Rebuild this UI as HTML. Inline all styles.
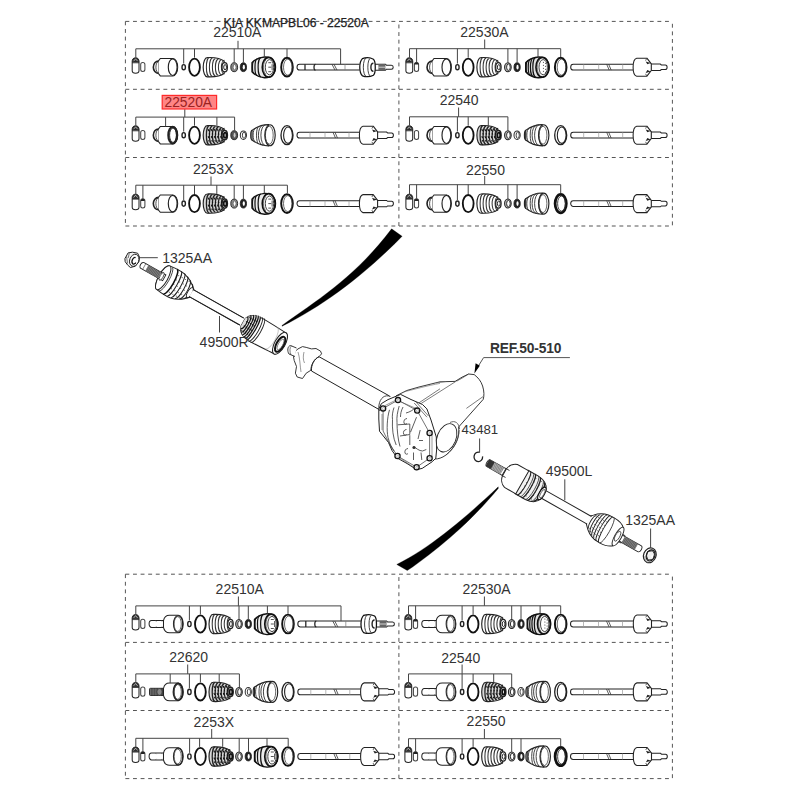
<!DOCTYPE html>
<html><head><meta charset="utf-8"><style>
html,body{margin:0;padding:0;background:#fff;}
svg{display:block;font-family:"Liberation Sans",sans-serif;}
</style></head><body>
<svg width="800" height="800" viewBox="0 0 800 800">
<rect width="800" height="800" fill="#fff"/>
<line x1="125.4" y1="21.4" x2="672.4" y2="21.4" stroke="#555" stroke-width="1" stroke-dasharray="3.9 3.7" fill="none" stroke-dashoffset="0"/>
<line x1="125.4" y1="226" x2="672.4" y2="226" stroke="#555" stroke-width="1" stroke-dasharray="3.9 3.7" fill="none" stroke-dashoffset="0"/>
<line x1="125.4" y1="21.4" x2="125.4" y2="226" stroke="#555" stroke-width="1" stroke-dasharray="3.9 3.7" fill="none" stroke-dashoffset="0"/>
<line x1="672.4" y1="21.4" x2="672.4" y2="226" stroke="#555" stroke-width="1" stroke-dasharray="3.9 3.7" fill="none" stroke-dashoffset="-2.4"/>
<line x1="125.4" y1="89.3" x2="672.4" y2="89.3" stroke="#555" stroke-width="1" stroke-dasharray="3.9 3.7" fill="none" stroke-dashoffset="0"/>
<line x1="125.4" y1="157.5" x2="672.4" y2="157.5" stroke="#555" stroke-width="1" stroke-dasharray="3.9 3.7" fill="none" stroke-dashoffset="0"/>
<line x1="398.9" y1="226" x2="398.9" y2="21.4" stroke="#555" stroke-width="1" stroke-dasharray="3.9 3.7" fill="none" stroke-dashoffset="0"/>
<line x1="125.4" y1="574.2" x2="672.4" y2="574.2" stroke="#555" stroke-width="1" stroke-dasharray="3.9 3.7" fill="none" stroke-dashoffset="0"/>
<line x1="125.4" y1="778.6" x2="672.4" y2="778.6" stroke="#555" stroke-width="1" stroke-dasharray="3.9 3.7" fill="none" stroke-dashoffset="0"/>
<line x1="125.4" y1="574.2" x2="125.4" y2="778.6" stroke="#555" stroke-width="1" stroke-dasharray="3.9 3.7" fill="none" stroke-dashoffset="0"/>
<line x1="672.4" y1="574.2" x2="672.4" y2="778.6" stroke="#555" stroke-width="1" stroke-dasharray="3.9 3.7" fill="none" stroke-dashoffset="-2.4"/>
<line x1="125.4" y1="642.4" x2="672.4" y2="642.4" stroke="#555" stroke-width="1" stroke-dasharray="3.9 3.7" fill="none" stroke-dashoffset="0"/>
<line x1="125.4" y1="710.5" x2="672.4" y2="710.5" stroke="#555" stroke-width="1" stroke-dasharray="3.9 3.7" fill="none" stroke-dashoffset="0"/>
<line x1="398.9" y1="778.6" x2="398.9" y2="574.2" stroke="#555" stroke-width="1" stroke-dasharray="3.9 3.7" fill="none" stroke-dashoffset="0"/>
<path d="M132.2,62 V70.8 A3.4,2.5 0 0 0 139,70.8 V62" fill="#fff" stroke="#222" stroke-width="1.03"/><path d="M132.1,62 A3.5,4.2 0 0 1 139.1,62 Z" fill="#333" stroke="#222" stroke-width="0.92"/><path d="M133.6,61.2 L135.6,58.8 L137.6,61.2" fill="none" stroke="#ddd" stroke-width="0.69"/><line x1="132.2" y1="62.8" x2="139" y2="62.8" stroke="#222" stroke-width="0.8"/>
<rect x="140.7" y="62.4" width="4.2" height="9.2" rx="2.1" ry="2" fill="#fff" stroke="#444" stroke-width="1.03"/>
<path d="M158.3,61.1 L160.3,58.5 H172.9 A4.8,8.7 0 0 1 172.9,75.9 H160.3 L158.3,73.3 Z" fill="#fff" stroke="#222" stroke-width="1.03"/><path d="M158.5,61 A5,6 0 0 0 158.5,73.4" fill="#fff" stroke="#222" stroke-width="1.61"/><path d="M158.5,61.6 A2.6,5.6 0 0 0 158.5,72.8" fill="none" stroke="#222" stroke-width="0.8"/><ellipse cx="172.7" cy="67.2" rx="4.4" ry="8.3" fill="#fff" stroke="#222" stroke-width="1.15"/>
<ellipse cx="183.7" cy="67.2" rx="1.7" ry="2.6" fill="none" stroke="#222" stroke-width="1.38"/>
<ellipse cx="194.5" cy="67.2" rx="5.4" ry="8.6" fill="none" stroke="#111" stroke-width="1.84"/>
<path d="M207.2,57.6 C215.2,57.2 221.2,58.7 224.2,61.2 L224.2,73.2 C221.2,75.7 215.2,77.2 207.2,76.8 A4,9.6 0 0 1 207.2,57.6 Z" fill="#fff" stroke="#222" stroke-width="1.15"/><path d="M209.4,57.6 A3,9.6 0 0 0 209.4,76.8" fill="none" stroke="#333" stroke-width="1.03"/><path d="M212.4,58.15 A3,9.05 0 0 0 212.4,76.25" fill="none" stroke="#333" stroke-width="1.03"/><path d="M215.4,58.7 A3,8.5 0 0 0 215.4,75.7" fill="none" stroke="#333" stroke-width="1.03"/><path d="M218.4,59.25 A3,7.95 0 0 0 218.4,75.15" fill="none" stroke="#333" stroke-width="1.03"/><path d="M221.4,59.8 A3,7.4 0 0 0 221.4,74.6" fill="none" stroke="#333" stroke-width="1.03"/><path d="M224.4,60.35 A3,6.85 0 0 0 224.4,74.05" fill="none" stroke="#333" stroke-width="1.03"/><ellipse cx="224.7" cy="67.2" rx="2.7" ry="4.6" fill="#fff" stroke="#222" stroke-width="1.26"/><ellipse cx="225.1" cy="67.2" rx="1.4" ry="2.6" fill="#fff" stroke="#111" stroke-width="0.92"/>
<ellipse cx="234.2" cy="67.2" rx="3.4" ry="4.5" fill="#888" stroke="#222" stroke-width="0.92"/><ellipse cx="234.6" cy="67.2" rx="1.4" ry="2.6" fill="#fff" stroke="#444" stroke-width="0.57"/>
<ellipse cx="243.4" cy="67.2" rx="3.1" ry="4.4" fill="#222" stroke="#222" stroke-width="0.92"/><ellipse cx="243.8" cy="67.2" rx="1.1" ry="2.4" fill="#fff"/>
<path d="M252,62.7 C254.5,59.7 258.5,57.6 264.5,57 C271.5,56.6 275.5,61.2 275.5,67.2 C275.5,73.2 271.5,78 264.5,77.8 C258.5,77.2 254.5,74.7 252,71.7 Z" fill="#ececec" stroke="#111" stroke-width="1.38"/><path d="M254.3,61 A1.86,6.2 0 0 0 254.3,73.4" fill="none" stroke="#111" stroke-width="1.21"/><path d="M257.5,58.8 A2.52,8.4 0 0 0 257.5,75.6" fill="none" stroke="#111" stroke-width="1.21"/><path d="M261,57.6 A2.88,9.6 0 0 0 261,76.8" fill="none" stroke="#111" stroke-width="1.21"/><ellipse cx="268.7" cy="67.2" rx="6.4" ry="9.9" fill="#f6f6f6" stroke="#111" stroke-width="1.72"/><ellipse cx="269.5" cy="67.2" rx="4.2" ry="7.6" fill="#fff" stroke="#333" stroke-width="0.92"/><path d="M266,60.2 A2.5,7 0 0 0 266,74.2" fill="none" stroke="#555" stroke-width="0.8"/><line x1="268.3" y1="62.7" x2="271.3" y2="62.7" stroke="#444" stroke-width="0.92"/><line x1="268.3" y1="67.2" x2="271.3" y2="67.2" stroke="#444" stroke-width="0.92"/><line x1="268.3" y1="71.7" x2="271.3" y2="71.7" stroke="#444" stroke-width="0.92"/><line x1="272.1" y1="64.2" x2="272.1" y2="70.2" stroke="#444" stroke-width="0.92"/>
<ellipse cx="287" cy="67.2" rx="5.8" ry="9.4" fill="none" stroke="#111" stroke-width="1.95"/><ellipse cx="287.8" cy="67.2" rx="4.3" ry="8" fill="none" stroke="#444" stroke-width="0.8"/>
<path d="M359.6,64.3 H299.6 A2.6,2.9 0 0 0 299.6,70.1 H359.6" fill="#fff" stroke="#222" stroke-width="1.03"/><path d="M305,64.3 v5.8 M315.5,64.3 a1.5,2.9 0 0 0 0,5.8" fill="none" stroke="#222" stroke-width="1.26"/><path d="M332,64.3 l3,5.8 M334,64.3 l3,5.8" fill="none" stroke="#333" stroke-width="0.8"/><path d="M345,64.3 v5.8" stroke="#777" stroke-width="0.69"/>
<path d="M374.4,64.2 H385.4 L386.4,65.2 H391.4 A1.8,2 0 0 1 391.4,69.2 H386.4 L385.4,70.2 H374.4 Z" fill="#fff" stroke="#222" stroke-width="1.03"/><rect x="378.4" y="64.2" width="7" height="6" fill="#666"/><line x1="378.4" y1="67.2" x2="385.4" y2="67.2" stroke="#ddd" stroke-width="0.92"/><path d="M362.4,58.6 C365.4,57.6 370.4,57.6 373.4,59.2 C375.9,61.2 375.9,73.2 373.4,75.2 C370.4,76.8 365.4,76.8 362.4,75.8 C358.9,72.2 358.9,62.2 362.4,58.6 Z" fill="#fff" stroke="#111" stroke-width="1.26"/><path d="M366.4,58 A3,9 0 0 0 366.4,76.4" fill="none" stroke="#333" stroke-width="0.92"/><path d="M370.4,58.4 A2.5,8.6 0 0 0 370.4,76" fill="none" stroke="#333" stroke-width="0.92"/><path d="M373.4,63.2 A2.5,4 0 0 0 373.4,71.2" fill="none" stroke="#222" stroke-width="1.38"/>
<path d="M132.2,130 V138.8 A3.4,2.5 0 0 0 139,138.8 V130" fill="#fff" stroke="#222" stroke-width="1.03"/><path d="M132.1,130 A3.5,4.2 0 0 1 139.1,130 Z" fill="#333" stroke="#222" stroke-width="0.92"/><path d="M133.6,129.2 L135.6,126.8 L137.6,129.2" fill="none" stroke="#ddd" stroke-width="0.69"/><line x1="132.2" y1="130.8" x2="139" y2="130.8" stroke="#222" stroke-width="0.8"/>
<rect x="140.7" y="130.4" width="4.2" height="9.2" rx="2.1" ry="2" fill="#fff" stroke="#444" stroke-width="1.03"/>
<path d="M158.3,129.1 L160.3,126.5 H172.9 A4.8,8.7 0 0 1 172.9,143.9 H160.3 L158.3,141.3 Z" fill="#fff" stroke="#222" stroke-width="1.03"/><path d="M158.5,129 A5,6 0 0 0 158.5,141.4" fill="#fff" stroke="#222" stroke-width="1.61"/><path d="M158.5,129.6 A2.6,5.6 0 0 0 158.5,140.8" fill="none" stroke="#222" stroke-width="0.8"/><ellipse cx="172.7" cy="135.2" rx="4.4" ry="8.3" fill="#fff" stroke="#222" stroke-width="2.07"/><ellipse cx="173" cy="135.2" rx="3.4" ry="7.2" fill="none" stroke="#222" stroke-width="0.92"/>
<ellipse cx="183.7" cy="135.2" rx="1.7" ry="2.6" fill="none" stroke="#222" stroke-width="1.38"/>
<ellipse cx="194.5" cy="135.2" rx="5.4" ry="8.6" fill="none" stroke="#111" stroke-width="1.84"/>
<path d="M207.2,125.6 C215.2,125.2 221.2,126.7 224.2,129.2 L224.2,141.2 C221.2,143.7 215.2,145.2 207.2,144.8 A4,9.6 0 0 1 207.2,125.6 Z" fill="#d8d8d8" stroke="#222" stroke-width="1.15"/><path d="M209.4,125.6 A3,9.6 0 0 0 209.4,144.8" fill="none" stroke="#222" stroke-width="1.26"/><path d="M212.4,126.15 A3,9.05 0 0 0 212.4,144.25" fill="none" stroke="#222" stroke-width="1.26"/><path d="M215.4,126.7 A3,8.5 0 0 0 215.4,143.7" fill="none" stroke="#222" stroke-width="1.26"/><path d="M218.4,127.25 A3,7.95 0 0 0 218.4,143.15" fill="none" stroke="#222" stroke-width="1.26"/><path d="M221.4,127.8 A3,7.4 0 0 0 221.4,142.6" fill="none" stroke="#222" stroke-width="1.26"/><path d="M224.4,128.35 A3,6.85 0 0 0 224.4,142.05" fill="none" stroke="#222" stroke-width="1.26"/><ellipse cx="224.7" cy="135.2" rx="2.7" ry="4.6" fill="#fff" stroke="#222" stroke-width="1.49"/><ellipse cx="225.1" cy="135.2" rx="1.4" ry="2.6" fill="#fff" stroke="#111" stroke-width="1.84"/><path d="M208.2,129.2 l0.6,2 M208.2,136.2 l0.6,2 M209.2,133.2 l0.5,1.5 M208.7,140.2 l0.5,1.5" stroke="#111" stroke-width="1.03"/><path d="M211.3,129.2 l0.6,2 M211.3,136.2 l0.6,2 M212.3,133.2 l0.5,1.5 M211.8,140.2 l0.5,1.5" stroke="#111" stroke-width="1.03"/><path d="M214.4,129.2 l0.6,2 M214.4,136.2 l0.6,2 M215.4,133.2 l0.5,1.5 M214.9,140.2 l0.5,1.5" stroke="#111" stroke-width="1.03"/><path d="M217.5,129.2 l0.6,2 M217.5,136.2 l0.6,2 M218.5,133.2 l0.5,1.5 M218,140.2 l0.5,1.5" stroke="#111" stroke-width="1.03"/><path d="M220.6,129.2 l0.6,2 M220.6,136.2 l0.6,2 M221.6,133.2 l0.5,1.5 M221.1,140.2 l0.5,1.5" stroke="#111" stroke-width="1.03"/>
<ellipse cx="234.2" cy="135.2" rx="3.4" ry="4.5" fill="#555" stroke="#222" stroke-width="0.92"/><ellipse cx="234.6" cy="135.2" rx="1.4" ry="2.6" fill="#ccc" stroke="#444" stroke-width="0.57"/>
<ellipse cx="243.4" cy="135.2" rx="3.1" ry="4.3" fill="#fff" stroke="#333" stroke-width="1.03"/><ellipse cx="244" cy="135.2" rx="1.6" ry="3.1" fill="#fff" stroke="#333" stroke-width="0.92"/>
<path d="M252,130.4 C255.5,127.7 261.5,124.6 268.5,124.6 L268.5,145.8 C261.5,145.8 255.5,142.7 252,140 Z" fill="#fff" stroke="#222" stroke-width="1.15"/><path d="M252.3,130.4 A1.6,4.8 0 0 0 252.3,140" fill="none" stroke="#222" stroke-width="1.15"/><path d="M255.3,128.6 A2.2,6.6 0 0 0 255.3,141.8" fill="none" stroke="#333" stroke-width="0.92"/><path d="M258.7,126.6 A2.2,8.6 0 0 0 258.7,143.8" fill="none" stroke="#333" stroke-width="0.92"/><ellipse cx="270" cy="135.2" rx="5.2" ry="10.5" fill="#fff" stroke="#222" stroke-width="1.15"/><path d="M263,125.3 A4.6,9.9 0 0 0 263,145.1" fill="none" stroke="#333" stroke-width="0.92"/><path d="M265.5,124.9 A4.6,10.3 0 0 0 265.5,145.5" fill="none" stroke="#333" stroke-width="0.92"/><path d="M269.3,126.2 A3.9,9 0 0 0 269.3,144.2" fill="none" stroke="#333" stroke-width="0.92"/><path d="M269.3,126.2 A3.9,9 0 0 1 269.3,144.2" fill="none" stroke="#444" stroke-width="0.8"/>
<ellipse cx="287" cy="135.2" rx="6" ry="9.5" fill="none" stroke="#222" stroke-width="1.32"/><ellipse cx="288" cy="135.2" rx="4.4" ry="8.2" fill="none" stroke="#222" stroke-width="1.09"/>
<path d="M359.6,132.3 H299.6 A2.6,2.9 0 0 0 299.6,138.1 H359.6" fill="#fff" stroke="#222" stroke-width="1.03"/><path d="M310,132.3 v5.8 M325,132.3 v5.8" fill="none" stroke="#999" stroke-width="0.69"/><path d="M333,132.3 l2.5,5.8 M335,132.3 l2.5,5.8" fill="none" stroke="#333" stroke-width="0.8"/><path d="M349,132.3 v5.8" fill="none" stroke="#999" stroke-width="0.69"/>
<path d="M375.4,132 H386.6 L387.6,132.9 H391.6 A1.8,2.3 0 0 1 391.6,137.5 H387.6 L386.6,138.4 H375.4 Z" fill="#fff" stroke="#222" stroke-width="1.03"/><path d="M363,126.2 H373.2 L377.6,131.9 V138.5 L373.2,144.2 H363 C358.2,143.2 358.2,127.2 363,126.2 Z" fill="#fff" stroke="#222" stroke-width="1.09" stroke-linejoin="round"/><path d="M372,129.4 L377,131 L373.6,132.3 Z M372,141 L377,139.4 L373.6,138.1 Z" fill="#222"/><path d="M372.9,126.6 l-1,2 M372.9,143.8 l-1,-2" stroke="#333" stroke-width="0.8"/>
<path d="M132.2,198.4 V207.2 A3.4,2.5 0 0 0 139,207.2 V198.4" fill="#fff" stroke="#222" stroke-width="1.03"/><path d="M132.1,198.4 A3.5,4.2 0 0 1 139.1,198.4 Z" fill="#333" stroke="#222" stroke-width="0.92"/><path d="M133.6,197.6 L135.6,195.2 L137.6,197.6" fill="none" stroke="#ddd" stroke-width="0.69"/><line x1="132.2" y1="199.2" x2="139" y2="199.2" stroke="#222" stroke-width="0.8"/>
<rect x="140.7" y="198.8" width="4.2" height="9.2" rx="2.1" ry="2" fill="#fff" stroke="#444" stroke-width="1.03"/><path d="M140.7,201 A2.1,2.3 0 0 1 144.9,201 Z" fill="#222"/>
<path d="M158.3,197.5 L160.3,194.9 H172.9 A4.8,8.7 0 0 1 172.9,212.3 H160.3 L158.3,209.7 Z" fill="#fff" stroke="#222" stroke-width="1.03"/><path d="M158.5,197.4 A5,6 0 0 0 158.5,209.8" fill="#fff" stroke="#222" stroke-width="1.61"/><path d="M158.5,198 A2.6,5.6 0 0 0 158.5,209.2" fill="none" stroke="#222" stroke-width="0.8"/><ellipse cx="172.7" cy="203.6" rx="4.4" ry="8.3" fill="#fff" stroke="#222" stroke-width="1.15"/>
<ellipse cx="183.7" cy="203.6" rx="1.7" ry="2.6" fill="none" stroke="#222" stroke-width="1.38"/>
<ellipse cx="194.5" cy="203.6" rx="5.4" ry="8.6" fill="none" stroke="#111" stroke-width="1.84"/>
<path d="M207.2,194 C215.2,193.6 221.2,195.1 224.2,197.6 L224.2,209.6 C221.2,212.1 215.2,213.6 207.2,213.2 A4,9.6 0 0 1 207.2,194 Z" fill="#d8d8d8" stroke="#222" stroke-width="1.15"/><path d="M209.4,194 A3,9.6 0 0 0 209.4,213.2" fill="none" stroke="#222" stroke-width="1.26"/><path d="M212.4,194.55 A3,9.05 0 0 0 212.4,212.65" fill="none" stroke="#222" stroke-width="1.26"/><path d="M215.4,195.1 A3,8.5 0 0 0 215.4,212.1" fill="none" stroke="#222" stroke-width="1.26"/><path d="M218.4,195.65 A3,7.95 0 0 0 218.4,211.55" fill="none" stroke="#222" stroke-width="1.26"/><path d="M221.4,196.2 A3,7.4 0 0 0 221.4,211" fill="none" stroke="#222" stroke-width="1.26"/><path d="M224.4,196.75 A3,6.85 0 0 0 224.4,210.45" fill="none" stroke="#222" stroke-width="1.26"/><ellipse cx="224.7" cy="203.6" rx="2.7" ry="4.6" fill="#fff" stroke="#222" stroke-width="1.49"/><ellipse cx="225.1" cy="203.6" rx="1.4" ry="2.6" fill="#fff" stroke="#111" stroke-width="1.84"/><path d="M208.2,197.6 l0.6,2 M208.2,204.6 l0.6,2 M209.2,201.6 l0.5,1.5 M208.7,208.6 l0.5,1.5" stroke="#111" stroke-width="1.03"/><path d="M211.3,197.6 l0.6,2 M211.3,204.6 l0.6,2 M212.3,201.6 l0.5,1.5 M211.8,208.6 l0.5,1.5" stroke="#111" stroke-width="1.03"/><path d="M214.4,197.6 l0.6,2 M214.4,204.6 l0.6,2 M215.4,201.6 l0.5,1.5 M214.9,208.6 l0.5,1.5" stroke="#111" stroke-width="1.03"/><path d="M217.5,197.6 l0.6,2 M217.5,204.6 l0.6,2 M218.5,201.6 l0.5,1.5 M218,208.6 l0.5,1.5" stroke="#111" stroke-width="1.03"/><path d="M220.6,197.6 l0.6,2 M220.6,204.6 l0.6,2 M221.6,201.6 l0.5,1.5 M221.1,208.6 l0.5,1.5" stroke="#111" stroke-width="1.03"/>
<ellipse cx="234.2" cy="203.6" rx="3.4" ry="4.5" fill="#888" stroke="#222" stroke-width="0.92"/><ellipse cx="234.6" cy="203.6" rx="1.4" ry="2.6" fill="#fff" stroke="#444" stroke-width="0.57"/>
<ellipse cx="243.4" cy="203.6" rx="3.1" ry="4.4" fill="#222" stroke="#222" stroke-width="0.92"/><ellipse cx="243.8" cy="203.6" rx="1.1" ry="2.4" fill="#fff"/>
<path d="M252,199.1 C254.5,196.1 258.5,194 264.5,193.4 C271.5,193 275.5,197.6 275.5,203.6 C275.5,209.6 271.5,214.4 264.5,214.2 C258.5,213.6 254.5,211.1 252,208.1 Z" fill="#ececec" stroke="#111" stroke-width="1.38"/><path d="M254.3,197.4 A1.86,6.2 0 0 0 254.3,209.8" fill="none" stroke="#111" stroke-width="1.21"/><path d="M257.5,195.2 A2.52,8.4 0 0 0 257.5,212" fill="none" stroke="#111" stroke-width="1.21"/><path d="M261,194 A2.88,9.6 0 0 0 261,213.2" fill="none" stroke="#111" stroke-width="1.21"/><ellipse cx="268.7" cy="203.6" rx="6.4" ry="9.9" fill="#f6f6f6" stroke="#111" stroke-width="1.72"/><ellipse cx="269.5" cy="203.6" rx="4.2" ry="7.6" fill="#fff" stroke="#333" stroke-width="0.92"/><path d="M266,196.6 A2.5,7 0 0 0 266,210.6" fill="none" stroke="#555" stroke-width="0.8"/><line x1="268.3" y1="199.1" x2="271.3" y2="199.1" stroke="#444" stroke-width="0.92"/><line x1="268.3" y1="203.6" x2="271.3" y2="203.6" stroke="#444" stroke-width="0.92"/><line x1="268.3" y1="208.1" x2="271.3" y2="208.1" stroke="#444" stroke-width="0.92"/><line x1="272.1" y1="200.6" x2="272.1" y2="206.6" stroke="#444" stroke-width="0.92"/>
<ellipse cx="287" cy="203.6" rx="5.8" ry="9.4" fill="none" stroke="#111" stroke-width="1.95"/><ellipse cx="287.8" cy="203.6" rx="4.3" ry="8" fill="none" stroke="#444" stroke-width="0.8"/>
<path d="M359.6,200.7 H299.6 A2.6,2.9 0 0 0 299.6,206.5 H359.6" fill="#fff" stroke="#222" stroke-width="1.03"/><path d="M310,200.7 v5.8 M325,200.7 v5.8" fill="none" stroke="#999" stroke-width="0.69"/><path d="M333,200.7 l2.5,5.8 M335,200.7 l2.5,5.8" fill="none" stroke="#333" stroke-width="0.8"/><path d="M349,200.7 v5.8" fill="none" stroke="#999" stroke-width="0.69"/>
<path d="M375.4,200.4 H386.6 L387.6,201.3 H391.6 A1.8,2.3 0 0 1 391.6,205.9 H387.6 L386.6,206.8 H375.4 Z" fill="#fff" stroke="#222" stroke-width="1.03"/><path d="M363,194.6 H373.2 L377.6,200.3 V206.9 L373.2,212.6 H363 C358.2,211.6 358.2,195.6 363,194.6 Z" fill="#fff" stroke="#222" stroke-width="1.09" stroke-linejoin="round"/><path d="M372,197.8 L377,199.4 L373.6,200.7 Z M372,209.4 L377,207.8 L373.6,206.5 Z" fill="#222"/><path d="M372.9,195 l-1,2 M372.9,212.2 l-1,-2" stroke="#333" stroke-width="0.8"/>
<path d="M405.9,62 V70.8 A3.4,2.5 0 0 0 412.7,70.8 V62" fill="#fff" stroke="#222" stroke-width="1.03"/><path d="M405.8,62 A3.5,4.2 0 0 1 412.8,62 Z" fill="#333" stroke="#222" stroke-width="0.92"/><path d="M407.3,61.2 L409.3,58.8 L411.3,61.2" fill="none" stroke="#ddd" stroke-width="0.69"/><line x1="405.9" y1="62.8" x2="412.7" y2="62.8" stroke="#222" stroke-width="0.8"/>
<rect x="414.4" y="62.4" width="4.2" height="9.2" rx="2.1" ry="2" fill="#fff" stroke="#444" stroke-width="1.03"/><path d="M414.4,64.6 A2.1,2.3 0 0 1 418.6,64.6 Z" fill="#222"/>
<path d="M432,61.1 L434,58.5 H446.6 A4.8,8.7 0 0 1 446.6,75.9 H434 L432,73.3 Z" fill="#fff" stroke="#222" stroke-width="1.03"/><path d="M432.2,61 A5,6 0 0 0 432.2,73.4" fill="#fff" stroke="#222" stroke-width="1.61"/><path d="M432.2,61.6 A2.6,5.6 0 0 0 432.2,72.8" fill="none" stroke="#222" stroke-width="0.8"/><ellipse cx="446.4" cy="67.2" rx="4.4" ry="8.3" fill="#fff" stroke="#222" stroke-width="1.15"/>
<ellipse cx="457.4" cy="67.2" rx="1.7" ry="2.6" fill="none" stroke="#222" stroke-width="1.38"/>
<ellipse cx="468.2" cy="67.2" rx="5.4" ry="8.6" fill="none" stroke="#111" stroke-width="1.84"/>
<path d="M480.9,57.6 C488.9,57.2 494.9,58.7 497.9,61.2 L497.9,73.2 C494.9,75.7 488.9,77.2 480.9,76.8 A4,9.6 0 0 1 480.9,57.6 Z" fill="#fff" stroke="#222" stroke-width="1.15"/><path d="M483.1,57.6 A3,9.6 0 0 0 483.1,76.8" fill="none" stroke="#333" stroke-width="1.03"/><path d="M486.1,58.15 A3,9.05 0 0 0 486.1,76.25" fill="none" stroke="#333" stroke-width="1.03"/><path d="M489.1,58.7 A3,8.5 0 0 0 489.1,75.7" fill="none" stroke="#333" stroke-width="1.03"/><path d="M492.1,59.25 A3,7.95 0 0 0 492.1,75.15" fill="none" stroke="#333" stroke-width="1.03"/><path d="M495.1,59.8 A3,7.4 0 0 0 495.1,74.6" fill="none" stroke="#333" stroke-width="1.03"/><path d="M498.1,60.35 A3,6.85 0 0 0 498.1,74.05" fill="none" stroke="#333" stroke-width="1.03"/><ellipse cx="498.4" cy="67.2" rx="2.7" ry="4.6" fill="#fff" stroke="#222" stroke-width="1.26"/><ellipse cx="498.8" cy="67.2" rx="1.4" ry="2.6" fill="#fff" stroke="#111" stroke-width="0.92"/>
<ellipse cx="507.9" cy="67.2" rx="3.3" ry="4.5" fill="#bbb" stroke="#222" stroke-width="1.03"/><ellipse cx="508.4" cy="67.2" rx="1.8" ry="3.2" fill="#fff" stroke="#222" stroke-width="0.92"/>
<ellipse cx="517.1" cy="67.2" rx="3.1" ry="4.4" fill="#222" stroke="#222" stroke-width="0.92"/><ellipse cx="517.5" cy="67.2" rx="1.1" ry="2.4" fill="#fff"/>
<path d="M525.7,62.7 C528.2,59.7 532.2,57.6 538.2,57 C545.2,56.6 549.2,61.2 549.2,67.2 C549.2,73.2 545.2,78 538.2,77.8 C532.2,77.2 528.2,74.7 525.7,71.7 Z" fill="#e0e0e0" stroke="#111" stroke-width="1.38"/><path d="M528,61 A1.86,6.2 0 0 0 528,73.4" fill="none" stroke="#111" stroke-width="1.21"/><path d="M530.6,59.3 A2.37,7.9 0 0 0 530.6,75.1" fill="none" stroke="#111" stroke-width="1.21"/><path d="M533.2,58 A2.76,9.2 0 0 0 533.2,76.4" fill="none" stroke="#111" stroke-width="1.21"/><path d="M535.8,57.3 A2.97,9.9 0 0 0 535.8,77.1" fill="none" stroke="#111" stroke-width="1.21"/><ellipse cx="542.4" cy="67.2" rx="6.4" ry="9.9" fill="#f6f6f6" stroke="#111" stroke-width="1.72"/><ellipse cx="543.2" cy="67.2" rx="4.2" ry="7.6" fill="#fff" stroke="#333" stroke-width="0.92"/><path d="M539.7,60.2 A2.5,7 0 0 0 539.7,74.2" fill="none" stroke="#555" stroke-width="0.8"/><circle cx="543.4" cy="62.2" r="0.55" fill="#222"/><circle cx="545.6" cy="63.2" r="0.55" fill="#222"/><circle cx="543.4" cy="65.2" r="0.55" fill="#222"/><circle cx="545.6" cy="66.2" r="0.55" fill="#222"/><circle cx="543.4" cy="68.2" r="0.55" fill="#222"/><circle cx="545.6" cy="69.2" r="0.55" fill="#222"/><circle cx="543.4" cy="71.2" r="0.55" fill="#222"/><circle cx="545.6" cy="72.2" r="0.55" fill="#222"/>
<ellipse cx="560.7" cy="67.2" rx="5.8" ry="9.4" fill="none" stroke="#111" stroke-width="1.95"/><ellipse cx="561.5" cy="67.2" rx="4.3" ry="8" fill="none" stroke="#444" stroke-width="0.8"/>
<path d="M633.3,64.3 H573.3 A2.6,2.9 0 0 0 573.3,70.1 H633.3" fill="#fff" stroke="#222" stroke-width="1.03"/><path d="M583.7,64.3 v5.8 M598.7,64.3 v5.8" fill="none" stroke="#999" stroke-width="0.69"/><path d="M606.7,64.3 l2.5,5.8 M608.7,64.3 l2.5,5.8" fill="none" stroke="#333" stroke-width="0.8"/><path d="M622.7,64.3 v5.8" fill="none" stroke="#999" stroke-width="0.69"/>
<path d="M649.1,64 H660.3 L661.3,64.9 H665.3 A1.8,2.3 0 0 1 665.3,69.5 H661.3 L660.3,70.4 H649.1 Z" fill="#fff" stroke="#222" stroke-width="1.03"/><path d="M636.7,58.2 H646.9 L651.3,63.9 V70.5 L646.9,76.2 H636.7 C631.9,75.2 631.9,59.2 636.7,58.2 Z" fill="#fff" stroke="#222" stroke-width="1.09" stroke-linejoin="round"/><path d="M645.7,61.4 L650.7,63 L647.3,64.3 Z M645.7,73 L650.7,71.4 L647.3,70.1 Z" fill="#222"/><path d="M646.6,58.6 l-1,2 M646.6,75.8 l-1,-2" stroke="#333" stroke-width="0.8"/>
<path d="M405.9,130 V138.8 A3.4,2.5 0 0 0 412.7,138.8 V130" fill="#fff" stroke="#222" stroke-width="1.03"/><path d="M405.8,130 A3.5,4.2 0 0 1 412.8,130 Z" fill="#333" stroke="#222" stroke-width="0.92"/><path d="M407.3,129.2 L409.3,126.8 L411.3,129.2" fill="none" stroke="#ddd" stroke-width="0.69"/><line x1="405.9" y1="130.8" x2="412.7" y2="130.8" stroke="#222" stroke-width="0.8"/>
<rect x="414.4" y="130.4" width="4.2" height="9.2" rx="2.1" ry="2" fill="#fff" stroke="#444" stroke-width="1.03"/>
<path d="M432,129.1 L434,126.5 H446.6 A4.8,8.7 0 0 1 446.6,143.9 H434 L432,141.3 Z" fill="#fff" stroke="#222" stroke-width="1.03"/><path d="M432.2,129 A5,6 0 0 0 432.2,141.4" fill="#fff" stroke="#222" stroke-width="1.61"/><path d="M432.2,129.6 A2.6,5.6 0 0 0 432.2,140.8" fill="none" stroke="#222" stroke-width="0.8"/><ellipse cx="446.4" cy="135.2" rx="4.4" ry="8.3" fill="#fff" stroke="#222" stroke-width="1.15"/>
<ellipse cx="457.4" cy="135.2" rx="1.7" ry="2.6" fill="none" stroke="#222" stroke-width="1.38"/>
<ellipse cx="468.2" cy="135.2" rx="5.4" ry="8.6" fill="none" stroke="#111" stroke-width="1.84"/>
<path d="M480.9,125.6 C488.9,125.2 494.9,126.7 497.9,129.2 L497.9,141.2 C494.9,143.7 488.9,145.2 480.9,144.8 A4,9.6 0 0 1 480.9,125.6 Z" fill="#d8d8d8" stroke="#222" stroke-width="1.15"/><path d="M483.1,125.6 A3,9.6 0 0 0 483.1,144.8" fill="none" stroke="#222" stroke-width="1.26"/><path d="M486.1,126.15 A3,9.05 0 0 0 486.1,144.25" fill="none" stroke="#222" stroke-width="1.26"/><path d="M489.1,126.7 A3,8.5 0 0 0 489.1,143.7" fill="none" stroke="#222" stroke-width="1.26"/><path d="M492.1,127.25 A3,7.95 0 0 0 492.1,143.15" fill="none" stroke="#222" stroke-width="1.26"/><path d="M495.1,127.8 A3,7.4 0 0 0 495.1,142.6" fill="none" stroke="#222" stroke-width="1.26"/><path d="M498.1,128.35 A3,6.85 0 0 0 498.1,142.05" fill="none" stroke="#222" stroke-width="1.26"/><ellipse cx="498.4" cy="135.2" rx="2.7" ry="4.6" fill="#fff" stroke="#222" stroke-width="1.49"/><ellipse cx="498.8" cy="135.2" rx="1.4" ry="2.6" fill="#fff" stroke="#111" stroke-width="1.84"/><path d="M481.9,129.2 l0.6,2 M481.9,136.2 l0.6,2 M482.9,133.2 l0.5,1.5 M482.4,140.2 l0.5,1.5" stroke="#111" stroke-width="1.03"/><path d="M485,129.2 l0.6,2 M485,136.2 l0.6,2 M486,133.2 l0.5,1.5 M485.5,140.2 l0.5,1.5" stroke="#111" stroke-width="1.03"/><path d="M488.1,129.2 l0.6,2 M488.1,136.2 l0.6,2 M489.1,133.2 l0.5,1.5 M488.6,140.2 l0.5,1.5" stroke="#111" stroke-width="1.03"/><path d="M491.2,129.2 l0.6,2 M491.2,136.2 l0.6,2 M492.2,133.2 l0.5,1.5 M491.7,140.2 l0.5,1.5" stroke="#111" stroke-width="1.03"/><path d="M494.3,129.2 l0.6,2 M494.3,136.2 l0.6,2 M495.3,133.2 l0.5,1.5 M494.8,140.2 l0.5,1.5" stroke="#111" stroke-width="1.03"/>
<ellipse cx="507.9" cy="135.2" rx="3.3" ry="4.5" fill="#bbb" stroke="#222" stroke-width="1.03"/><ellipse cx="508.4" cy="135.2" rx="1.8" ry="3.2" fill="#fff" stroke="#222" stroke-width="0.92"/>
<ellipse cx="517.1" cy="135.2" rx="3.1" ry="4.3" fill="#fff" stroke="#333" stroke-width="1.03"/><ellipse cx="517.7" cy="135.2" rx="1.6" ry="3.1" fill="#fff" stroke="#333" stroke-width="0.92"/>
<path d="M525.7,130.4 C529.2,127.7 535.2,124.6 542.2,124.6 L542.2,145.8 C535.2,145.8 529.2,142.7 525.7,140 Z" fill="#fff" stroke="#222" stroke-width="1.15"/><path d="M526,130.4 A1.6,4.8 0 0 0 526,140" fill="none" stroke="#222" stroke-width="1.15"/><path d="M529,128.6 A2.2,6.6 0 0 0 529,141.8" fill="none" stroke="#333" stroke-width="0.92"/><path d="M532.4,126.6 A2.2,8.6 0 0 0 532.4,143.8" fill="none" stroke="#333" stroke-width="0.92"/><ellipse cx="543.7" cy="135.2" rx="5.2" ry="10.5" fill="#fff" stroke="#222" stroke-width="1.15"/><path d="M536.7,125.3 A4.6,9.9 0 0 0 536.7,145.1" fill="none" stroke="#333" stroke-width="0.92"/><path d="M539.2,124.9 A4.6,10.3 0 0 0 539.2,145.5" fill="none" stroke="#333" stroke-width="0.92"/><path d="M543,126.2 A3.9,9 0 0 0 543,144.2" fill="none" stroke="#333" stroke-width="0.92"/><path d="M543,126.2 A3.9,9 0 0 1 543,144.2" fill="none" stroke="#444" stroke-width="0.8"/>
<ellipse cx="560.7" cy="135.2" rx="6" ry="9.5" fill="none" stroke="#222" stroke-width="1.32"/><ellipse cx="561.7" cy="135.2" rx="4.4" ry="8.2" fill="none" stroke="#222" stroke-width="1.09"/>
<path d="M633.3,132.3 H573.3 A2.6,2.9 0 0 0 573.3,138.1 H633.3" fill="#fff" stroke="#222" stroke-width="1.03"/><path d="M583.7,132.3 v5.8 M598.7,132.3 v5.8" fill="none" stroke="#999" stroke-width="0.69"/><path d="M606.7,132.3 l2.5,5.8 M608.7,132.3 l2.5,5.8" fill="none" stroke="#333" stroke-width="0.8"/><path d="M622.7,132.3 v5.8" fill="none" stroke="#999" stroke-width="0.69"/>
<path d="M649.1,132 H660.3 L661.3,132.9 H665.3 A1.8,2.3 0 0 1 665.3,137.5 H661.3 L660.3,138.4 H649.1 Z" fill="#fff" stroke="#222" stroke-width="1.03"/><path d="M636.7,126.2 H646.9 L651.3,131.9 V138.5 L646.9,144.2 H636.7 C631.9,143.2 631.9,127.2 636.7,126.2 Z" fill="#fff" stroke="#222" stroke-width="1.09" stroke-linejoin="round"/><path d="M645.7,129.4 L650.7,131 L647.3,132.3 Z M645.7,141 L650.7,139.4 L647.3,138.1 Z" fill="#222"/><path d="M646.6,126.6 l-1,2 M646.6,143.8 l-1,-2" stroke="#333" stroke-width="0.8"/>
<path d="M405.9,198.4 V207.2 A3.4,2.5 0 0 0 412.7,207.2 V198.4" fill="#fff" stroke="#222" stroke-width="1.03"/><path d="M405.8,198.4 A3.5,4.2 0 0 1 412.8,198.4 Z" fill="#333" stroke="#222" stroke-width="0.92"/><path d="M407.3,197.6 L409.3,195.2 L411.3,197.6" fill="none" stroke="#ddd" stroke-width="0.69"/><line x1="405.9" y1="199.2" x2="412.7" y2="199.2" stroke="#222" stroke-width="0.8"/>
<rect x="414.4" y="198.8" width="4.2" height="9.2" rx="2.1" ry="2" fill="#fff" stroke="#444" stroke-width="1.03"/><path d="M414.4,201 A2.1,2.3 0 0 1 418.6,201 Z" fill="#222"/>
<path d="M432,197.5 L434,194.9 H446.6 A4.8,8.7 0 0 1 446.6,212.3 H434 L432,209.7 Z" fill="#fff" stroke="#222" stroke-width="1.03"/><path d="M432.2,197.4 A5,6 0 0 0 432.2,209.8" fill="#fff" stroke="#222" stroke-width="1.61"/><path d="M432.2,198 A2.6,5.6 0 0 0 432.2,209.2" fill="none" stroke="#222" stroke-width="0.8"/><ellipse cx="446.4" cy="203.6" rx="4.4" ry="8.3" fill="#fff" stroke="#222" stroke-width="1.15"/>
<ellipse cx="457.4" cy="203.6" rx="1.7" ry="2.6" fill="none" stroke="#222" stroke-width="1.38"/>
<ellipse cx="468.2" cy="203.6" rx="5.4" ry="8.6" fill="none" stroke="#111" stroke-width="1.84"/>
<path d="M480.9,194 C488.9,193.6 494.9,195.1 497.9,197.6 L497.9,209.6 C494.9,212.1 488.9,213.6 480.9,213.2 A4,9.6 0 0 1 480.9,194 Z" fill="#fff" stroke="#222" stroke-width="1.15"/><path d="M483.1,194 A3,9.6 0 0 0 483.1,213.2" fill="none" stroke="#333" stroke-width="1.03"/><path d="M486.1,194.55 A3,9.05 0 0 0 486.1,212.65" fill="none" stroke="#333" stroke-width="1.03"/><path d="M489.1,195.1 A3,8.5 0 0 0 489.1,212.1" fill="none" stroke="#333" stroke-width="1.03"/><path d="M492.1,195.65 A3,7.95 0 0 0 492.1,211.55" fill="none" stroke="#333" stroke-width="1.03"/><path d="M495.1,196.2 A3,7.4 0 0 0 495.1,211" fill="none" stroke="#333" stroke-width="1.03"/><path d="M498.1,196.75 A3,6.85 0 0 0 498.1,210.45" fill="none" stroke="#333" stroke-width="1.03"/><ellipse cx="498.4" cy="203.6" rx="2.7" ry="4.6" fill="#fff" stroke="#222" stroke-width="1.26"/><ellipse cx="498.8" cy="203.6" rx="1.4" ry="2.6" fill="#fff" stroke="#111" stroke-width="0.92"/>
<ellipse cx="507.9" cy="203.6" rx="3.3" ry="4.5" fill="#bbb" stroke="#222" stroke-width="1.03"/><ellipse cx="508.4" cy="203.6" rx="1.8" ry="3.2" fill="#fff" stroke="#222" stroke-width="0.92"/>
<ellipse cx="517.1" cy="203.6" rx="3.1" ry="4.4" fill="#222" stroke="#222" stroke-width="0.92"/><ellipse cx="517.5" cy="203.6" rx="1.1" ry="2.4" fill="#fff"/>
<path d="M525.7,198.8 C529.2,196.1 535.2,193 542.2,193 L542.2,214.2 C535.2,214.2 529.2,211.1 525.7,208.4 Z" fill="#fff" stroke="#222" stroke-width="1.15"/><path d="M526,198.8 A1.6,4.8 0 0 0 526,208.4" fill="none" stroke="#222" stroke-width="1.15"/><path d="M529,197 A2.2,6.6 0 0 0 529,210.2" fill="none" stroke="#333" stroke-width="0.92"/><path d="M532.4,195 A2.2,8.6 0 0 0 532.4,212.2" fill="none" stroke="#333" stroke-width="0.92"/><ellipse cx="543.7" cy="203.6" rx="5.2" ry="10.5" fill="#fff" stroke="#222" stroke-width="1.15"/><path d="M536.7,193.7 A4.6,9.9 0 0 0 536.7,213.5" fill="none" stroke="#333" stroke-width="0.92"/><path d="M539.2,193.3 A4.6,10.3 0 0 0 539.2,213.9" fill="none" stroke="#333" stroke-width="0.92"/><path d="M543,194.6 A3.9,9 0 0 0 543,212.6" fill="none" stroke="#333" stroke-width="0.92"/><path d="M543,194.6 A3.9,9 0 0 1 543,212.6" fill="none" stroke="#444" stroke-width="0.8"/>
<ellipse cx="560.7" cy="203.6" rx="5.6" ry="9.2" fill="none" stroke="#111" stroke-width="2.76"/><ellipse cx="561.5" cy="203.6" rx="3.9" ry="7.6" fill="none" stroke="#333" stroke-width="0.92"/>
<path d="M633.3,200.7 H573.3 A2.6,2.9 0 0 0 573.3,206.5 H633.3" fill="#fff" stroke="#222" stroke-width="1.03"/><path d="M583.7,200.7 v5.8 M598.7,200.7 v5.8" fill="none" stroke="#999" stroke-width="0.69"/><path d="M606.7,200.7 l2.5,5.8 M608.7,200.7 l2.5,5.8" fill="none" stroke="#333" stroke-width="0.8"/><path d="M622.7,200.7 v5.8" fill="none" stroke="#999" stroke-width="0.69"/>
<path d="M649.1,200.4 H660.3 L661.3,201.3 H665.3 A1.8,2.3 0 0 1 665.3,205.9 H661.3 L660.3,206.8 H649.1 Z" fill="#fff" stroke="#222" stroke-width="1.03"/><path d="M636.7,194.6 H646.9 L651.3,200.3 V206.9 L646.9,212.6 H636.7 C631.9,211.6 631.9,195.6 636.7,194.6 Z" fill="#fff" stroke="#222" stroke-width="1.09" stroke-linejoin="round"/><path d="M645.7,197.8 L650.7,199.4 L647.3,200.7 Z M645.7,209.4 L650.7,207.8 L647.3,206.5 Z" fill="#222"/><path d="M646.6,195 l-1,2 M646.6,212.2 l-1,-2" stroke="#333" stroke-width="0.8"/>
<path d="M132.2,618.8 V627.6 A3.4,2.5 0 0 0 139,627.6 V618.8" fill="#fff" stroke="#222" stroke-width="1.03"/><path d="M132.1,618.8 A3.5,4.2 0 0 1 139.1,618.8 Z" fill="#333" stroke="#222" stroke-width="0.92"/><path d="M133.6,618 L135.6,615.6 L137.6,618" fill="none" stroke="#ddd" stroke-width="0.69"/><line x1="132.2" y1="619.6" x2="139" y2="619.6" stroke="#222" stroke-width="0.8"/>
<rect x="140.7" y="619.2" width="4.2" height="9.2" rx="2.1" ry="2" fill="#fff" stroke="#444" stroke-width="1.03"/>
<path d="M164.5,620.6 H151.5 A2.4,3.4 0 0 0 151.5,627.4 H164.5" fill="#fff" stroke="#222" stroke-width="1.03"/><path d="M155.5,620.6 l0.8,1 M155.5,627.4 l0.8,-1 M161.5,620.6 l0.6,1 M161.5,627.4 l0.6,-1" stroke="#555" stroke-width="0.69"/><path d="M163.5,620.6 C164.1,617.5 166,615.2 169.5,615.2 H178.3 A4.9,8.8 0 0 1 178.3,632.8 H169.5 C166,632.8 164.1,630.5 163.5,627.4 Z" fill="#fff" stroke="#222" stroke-width="1.03"/><ellipse cx="178.1" cy="624" rx="4.6" ry="8.4" fill="#fff" stroke="#222" stroke-width="1.15"/><ellipse cx="177.7" cy="624" rx="3.6" ry="7.4" fill="none" stroke="#444" stroke-width="0.8"/>
<ellipse cx="189.4" cy="624" rx="1.7" ry="2.6" fill="none" stroke="#222" stroke-width="1.38"/>
<ellipse cx="200.4" cy="624" rx="5.4" ry="8.6" fill="none" stroke="#111" stroke-width="1.84"/>
<path d="M213,614.4 C221,614 227,615.5 230,618 L230,630 C227,632.5 221,634 213,633.6 A4,9.6 0 0 1 213,614.4 Z" fill="#fff" stroke="#222" stroke-width="1.15"/><path d="M215.2,614.4 A3,9.6 0 0 0 215.2,633.6" fill="none" stroke="#333" stroke-width="1.03"/><path d="M218.2,614.95 A3,9.05 0 0 0 218.2,633.05" fill="none" stroke="#333" stroke-width="1.03"/><path d="M221.2,615.5 A3,8.5 0 0 0 221.2,632.5" fill="none" stroke="#333" stroke-width="1.03"/><path d="M224.2,616.05 A3,7.95 0 0 0 224.2,631.95" fill="none" stroke="#333" stroke-width="1.03"/><path d="M227.2,616.6 A3,7.4 0 0 0 227.2,631.4" fill="none" stroke="#333" stroke-width="1.03"/><path d="M230.2,617.15 A3,6.85 0 0 0 230.2,630.85" fill="none" stroke="#333" stroke-width="1.03"/><ellipse cx="230.5" cy="624" rx="2.7" ry="4.6" fill="#fff" stroke="#222" stroke-width="1.26"/><ellipse cx="230.9" cy="624" rx="1.4" ry="2.6" fill="#fff" stroke="#111" stroke-width="0.92"/>
<ellipse cx="239" cy="624" rx="3.3" ry="4.5" fill="#bbb" stroke="#222" stroke-width="1.03"/><ellipse cx="239.5" cy="624" rx="1.8" ry="3.2" fill="#fff" stroke="#222" stroke-width="0.92"/>
<ellipse cx="248.3" cy="624" rx="3.1" ry="4.4" fill="#222" stroke="#222" stroke-width="0.92"/><ellipse cx="248.7" cy="624" rx="1.1" ry="2.4" fill="#fff"/>
<path d="M254.5,619.5 C257,616.5 261,614.4 267,613.8 C274,613.4 278,618 278,624 C278,630 274,634.8 267,634.6 C261,634 257,631.5 254.5,628.5 Z" fill="#ececec" stroke="#111" stroke-width="1.38"/><path d="M256.8,617.8 A1.86,6.2 0 0 0 256.8,630.2" fill="none" stroke="#111" stroke-width="1.21"/><path d="M260,615.6 A2.52,8.4 0 0 0 260,632.4" fill="none" stroke="#111" stroke-width="1.21"/><path d="M263.5,614.4 A2.88,9.6 0 0 0 263.5,633.6" fill="none" stroke="#111" stroke-width="1.21"/><ellipse cx="271.2" cy="624" rx="6.4" ry="9.9" fill="#f6f6f6" stroke="#111" stroke-width="1.72"/><ellipse cx="272" cy="624" rx="4.2" ry="7.6" fill="#fff" stroke="#333" stroke-width="0.92"/><path d="M268.5,617 A2.5,7 0 0 0 268.5,631" fill="none" stroke="#555" stroke-width="0.8"/><line x1="270.8" y1="619.5" x2="273.8" y2="619.5" stroke="#444" stroke-width="0.92"/><line x1="270.8" y1="624" x2="273.8" y2="624" stroke="#444" stroke-width="0.92"/><line x1="270.8" y1="628.5" x2="273.8" y2="628.5" stroke="#444" stroke-width="0.92"/><line x1="274.6" y1="621" x2="274.6" y2="627" stroke="#444" stroke-width="0.92"/>
<ellipse cx="288" cy="624" rx="5.8" ry="9.4" fill="none" stroke="#111" stroke-width="1.95"/><ellipse cx="288.8" cy="624" rx="4.3" ry="8" fill="none" stroke="#444" stroke-width="0.8"/>
<path d="M360.8,621.1 H300.4 A2.6,2.9 0 0 0 300.4,626.9 H360.8" fill="#fff" stroke="#222" stroke-width="1.03"/><path d="M305.8,621.1 v5.8 M316.3,621.1 a1.5,2.9 0 0 0 0,5.8" fill="none" stroke="#222" stroke-width="1.26"/><path d="M332.8,621.1 l3,5.8 M334.8,621.1 l3,5.8" fill="none" stroke="#333" stroke-width="0.8"/><path d="M345.8,621.1 v5.8" stroke="#777" stroke-width="0.69"/>
<path d="M375.6,621 H386.6 L387.6,622 H392.6 A1.8,2 0 0 1 392.6,626 H387.6 L386.6,627 H375.6 Z" fill="#fff" stroke="#222" stroke-width="1.03"/><rect x="379.6" y="621" width="7" height="6" fill="#666"/><line x1="379.6" y1="624" x2="386.6" y2="624" stroke="#ddd" stroke-width="0.92"/><path d="M363.6,615.4 C366.6,614.4 371.6,614.4 374.6,616 C377.1,618 377.1,630 374.6,632 C371.6,633.6 366.6,633.6 363.6,632.6 C360.1,629 360.1,619 363.6,615.4 Z" fill="#fff" stroke="#111" stroke-width="1.26"/><path d="M367.6,614.8 A3,9 0 0 0 367.6,633.2" fill="none" stroke="#333" stroke-width="0.92"/><path d="M371.6,615.2 A2.5,8.6 0 0 0 371.6,632.8" fill="none" stroke="#333" stroke-width="0.92"/><path d="M374.6,620 A2.5,4 0 0 0 374.6,628" fill="none" stroke="#222" stroke-width="1.38"/>
<path d="M132.2,686.7 V695.5 A3.4,2.5 0 0 0 139,695.5 V686.7" fill="#fff" stroke="#222" stroke-width="1.03"/><path d="M132.1,686.7 A3.5,4.2 0 0 1 139.1,686.7 Z" fill="#333" stroke="#222" stroke-width="0.92"/><path d="M133.6,685.9 L135.6,683.5 L137.6,685.9" fill="none" stroke="#ddd" stroke-width="0.69"/><line x1="132.2" y1="687.5" x2="139" y2="687.5" stroke="#222" stroke-width="0.8"/>
<rect x="140.7" y="687.1" width="4.2" height="9.2" rx="2.1" ry="2" fill="#fff" stroke="#444" stroke-width="1.03"/>
<rect x="149.5" y="688.3" width="15" height="7.2" rx="1" fill="#444" stroke="#222" stroke-width="0.92"/><line x1="150.5" y1="688.5" x2="150.5" y2="695.3" stroke="#999" stroke-width="0.46"/><line x1="152.1" y1="688.5" x2="152.1" y2="695.3" stroke="#999" stroke-width="0.46"/><line x1="153.7" y1="688.5" x2="153.7" y2="695.3" stroke="#999" stroke-width="0.46"/><line x1="155.3" y1="688.5" x2="155.3" y2="695.3" stroke="#999" stroke-width="0.46"/><line x1="156.9" y1="688.5" x2="156.9" y2="695.3" stroke="#999" stroke-width="0.46"/><line x1="158.5" y1="688.5" x2="158.5" y2="695.3" stroke="#999" stroke-width="0.46"/><line x1="160.1" y1="688.5" x2="160.1" y2="695.3" stroke="#999" stroke-width="0.46"/><ellipse cx="159.5" cy="691.9" rx="2.6" ry="3.4" fill="#888" stroke="#333" stroke-width="0.69"/><path d="M163.5,688.5 C164.1,685.4 166,683.1 169.5,683.1 H178.3 A4.9,8.8 0 0 1 178.3,700.7 H169.5 C166,700.7 164.1,698.4 163.5,695.3 Z" fill="#fff" stroke="#222" stroke-width="1.03"/><ellipse cx="178.1" cy="691.9" rx="4.6" ry="8.4" fill="#fff" stroke="#222" stroke-width="1.84"/><ellipse cx="177.7" cy="691.9" rx="3.6" ry="7.4" fill="none" stroke="#444" stroke-width="0.8"/>
<ellipse cx="189.4" cy="691.9" rx="1.7" ry="2.6" fill="none" stroke="#222" stroke-width="1.38"/>
<ellipse cx="200.4" cy="691.9" rx="5.4" ry="8.6" fill="none" stroke="#111" stroke-width="1.84"/>
<path d="M213,682.3 C221,681.9 227,683.4 230,685.9 L230,697.9 C227,700.4 221,701.9 213,701.5 A4,9.6 0 0 1 213,682.3 Z" fill="#d8d8d8" stroke="#222" stroke-width="1.15"/><path d="M215.2,682.3 A3,9.6 0 0 0 215.2,701.5" fill="none" stroke="#222" stroke-width="1.26"/><path d="M218.2,682.85 A3,9.05 0 0 0 218.2,700.95" fill="none" stroke="#222" stroke-width="1.26"/><path d="M221.2,683.4 A3,8.5 0 0 0 221.2,700.4" fill="none" stroke="#222" stroke-width="1.26"/><path d="M224.2,683.95 A3,7.95 0 0 0 224.2,699.85" fill="none" stroke="#222" stroke-width="1.26"/><path d="M227.2,684.5 A3,7.4 0 0 0 227.2,699.3" fill="none" stroke="#222" stroke-width="1.26"/><path d="M230.2,685.05 A3,6.85 0 0 0 230.2,698.75" fill="none" stroke="#222" stroke-width="1.26"/><ellipse cx="230.5" cy="691.9" rx="2.7" ry="4.6" fill="#fff" stroke="#222" stroke-width="1.49"/><ellipse cx="230.9" cy="691.9" rx="1.4" ry="2.6" fill="#fff" stroke="#111" stroke-width="1.84"/><path d="M214,685.9 l0.6,2 M214,692.9 l0.6,2 M215,689.9 l0.5,1.5 M214.5,696.9 l0.5,1.5" stroke="#111" stroke-width="1.03"/><path d="M217.1,685.9 l0.6,2 M217.1,692.9 l0.6,2 M218.1,689.9 l0.5,1.5 M217.6,696.9 l0.5,1.5" stroke="#111" stroke-width="1.03"/><path d="M220.2,685.9 l0.6,2 M220.2,692.9 l0.6,2 M221.2,689.9 l0.5,1.5 M220.7,696.9 l0.5,1.5" stroke="#111" stroke-width="1.03"/><path d="M223.3,685.9 l0.6,2 M223.3,692.9 l0.6,2 M224.3,689.9 l0.5,1.5 M223.8,696.9 l0.5,1.5" stroke="#111" stroke-width="1.03"/><path d="M226.4,685.9 l0.6,2 M226.4,692.9 l0.6,2 M227.4,689.9 l0.5,1.5 M226.9,696.9 l0.5,1.5" stroke="#111" stroke-width="1.03"/>
<ellipse cx="239" cy="691.9" rx="3.3" ry="4.5" fill="#bbb" stroke="#222" stroke-width="1.03"/><ellipse cx="239.5" cy="691.9" rx="1.8" ry="3.2" fill="#fff" stroke="#222" stroke-width="0.92"/>
<ellipse cx="248.3" cy="691.9" rx="3.1" ry="4.3" fill="#fff" stroke="#333" stroke-width="1.03"/><ellipse cx="248.9" cy="691.9" rx="1.6" ry="3.1" fill="#fff" stroke="#333" stroke-width="0.92"/>
<path d="M254.5,687.1 C258,684.4 264,681.3 271,681.3 L271,702.5 C264,702.5 258,699.4 254.5,696.7 Z" fill="#fff" stroke="#222" stroke-width="1.15"/><path d="M254.8,687.1 A1.6,4.8 0 0 0 254.8,696.7" fill="none" stroke="#222" stroke-width="1.15"/><path d="M257.8,685.3 A2.2,6.6 0 0 0 257.8,698.5" fill="none" stroke="#333" stroke-width="0.92"/><path d="M261.2,683.3 A2.2,8.6 0 0 0 261.2,700.5" fill="none" stroke="#333" stroke-width="0.92"/><ellipse cx="272.5" cy="691.9" rx="5.2" ry="10.5" fill="#fff" stroke="#222" stroke-width="1.15"/><path d="M265.5,682 A4.6,9.9 0 0 0 265.5,701.8" fill="none" stroke="#333" stroke-width="0.92"/><path d="M268,681.6 A4.6,10.3 0 0 0 268,702.2" fill="none" stroke="#333" stroke-width="0.92"/><path d="M271.8,682.9 A3.9,9 0 0 0 271.8,700.9" fill="none" stroke="#333" stroke-width="0.92"/><path d="M271.8,682.9 A3.9,9 0 0 1 271.8,700.9" fill="none" stroke="#444" stroke-width="0.8"/>
<ellipse cx="288" cy="691.9" rx="6" ry="9.5" fill="none" stroke="#222" stroke-width="1.32"/><ellipse cx="289" cy="691.9" rx="4.4" ry="8.2" fill="none" stroke="#222" stroke-width="1.09"/>
<path d="M360.8,689 H300.4 A2.6,2.9 0 0 0 300.4,694.8 H360.8" fill="#fff" stroke="#222" stroke-width="1.03"/><path d="M310.8,689 v5.8 M325.8,689 v5.8" fill="none" stroke="#999" stroke-width="0.69"/><path d="M333.8,689 l2.5,5.8 M335.8,689 l2.5,5.8" fill="none" stroke="#333" stroke-width="0.8"/><path d="M349.8,689 v5.8" fill="none" stroke="#999" stroke-width="0.69"/>
<path d="M376.6,688.7 H387.8 L388.8,689.6 H392.8 A1.8,2.3 0 0 1 392.8,694.2 H388.8 L387.8,695.1 H376.6 Z" fill="#fff" stroke="#222" stroke-width="1.03"/><path d="M364.2,682.9 H374.4 L378.8,688.6 V695.2 L374.4,700.9 H364.2 C359.4,699.9 359.4,683.9 364.2,682.9 Z" fill="#fff" stroke="#222" stroke-width="1.09" stroke-linejoin="round"/><path d="M373.2,686.1 L378.2,687.7 L374.8,689 Z M373.2,697.7 L378.2,696.1 L374.8,694.8 Z" fill="#222"/><path d="M374.1,683.3 l-1,2 M374.1,700.5 l-1,-2" stroke="#333" stroke-width="0.8"/>
<path d="M132.2,751.3 V760.1 A3.4,2.5 0 0 0 139,760.1 V751.3" fill="#fff" stroke="#222" stroke-width="1.03"/><path d="M132.1,751.3 A3.5,4.2 0 0 1 139.1,751.3 Z" fill="#333" stroke="#222" stroke-width="0.92"/><path d="M133.6,750.5 L135.6,748.1 L137.6,750.5" fill="none" stroke="#ddd" stroke-width="0.69"/><line x1="132.2" y1="752.1" x2="139" y2="752.1" stroke="#222" stroke-width="0.8"/>
<rect x="140.7" y="751.7" width="4.2" height="9.2" rx="2.1" ry="2" fill="#fff" stroke="#444" stroke-width="1.03"/><path d="M140.7,753.9 A2.1,2.3 0 0 1 144.9,753.9 Z" fill="#222"/>
<path d="M164.5,753.1 H151.5 A2.4,3.4 0 0 0 151.5,759.9 H164.5" fill="#fff" stroke="#222" stroke-width="1.03"/><path d="M155.5,753.1 l0.8,1 M155.5,759.9 l0.8,-1 M161.5,753.1 l0.6,1 M161.5,759.9 l0.6,-1" stroke="#555" stroke-width="0.69"/><path d="M163.5,753.1 C164.1,750 166,747.7 169.5,747.7 H178.3 A4.9,8.8 0 0 1 178.3,765.3 H169.5 C166,765.3 164.1,763 163.5,759.9 Z" fill="#fff" stroke="#222" stroke-width="1.03"/><ellipse cx="178.1" cy="756.5" rx="4.6" ry="8.4" fill="#fff" stroke="#222" stroke-width="1.15"/><ellipse cx="177.7" cy="756.5" rx="3.6" ry="7.4" fill="none" stroke="#444" stroke-width="0.8"/>
<ellipse cx="189.4" cy="756.5" rx="1.7" ry="2.6" fill="none" stroke="#222" stroke-width="1.38"/>
<ellipse cx="200.4" cy="756.5" rx="5.4" ry="8.6" fill="none" stroke="#111" stroke-width="1.84"/>
<path d="M213,746.9 C221,746.5 227,748 230,750.5 L230,762.5 C227,765 221,766.5 213,766.1 A4,9.6 0 0 1 213,746.9 Z" fill="#d8d8d8" stroke="#222" stroke-width="1.15"/><path d="M215.2,746.9 A3,9.6 0 0 0 215.2,766.1" fill="none" stroke="#222" stroke-width="1.26"/><path d="M218.2,747.45 A3,9.05 0 0 0 218.2,765.55" fill="none" stroke="#222" stroke-width="1.26"/><path d="M221.2,748 A3,8.5 0 0 0 221.2,765" fill="none" stroke="#222" stroke-width="1.26"/><path d="M224.2,748.55 A3,7.95 0 0 0 224.2,764.45" fill="none" stroke="#222" stroke-width="1.26"/><path d="M227.2,749.1 A3,7.4 0 0 0 227.2,763.9" fill="none" stroke="#222" stroke-width="1.26"/><path d="M230.2,749.65 A3,6.85 0 0 0 230.2,763.35" fill="none" stroke="#222" stroke-width="1.26"/><ellipse cx="230.5" cy="756.5" rx="2.7" ry="4.6" fill="#fff" stroke="#222" stroke-width="1.49"/><ellipse cx="230.9" cy="756.5" rx="1.4" ry="2.6" fill="#fff" stroke="#111" stroke-width="1.84"/><path d="M214,750.5 l0.6,2 M214,757.5 l0.6,2 M215,754.5 l0.5,1.5 M214.5,761.5 l0.5,1.5" stroke="#111" stroke-width="1.03"/><path d="M217.1,750.5 l0.6,2 M217.1,757.5 l0.6,2 M218.1,754.5 l0.5,1.5 M217.6,761.5 l0.5,1.5" stroke="#111" stroke-width="1.03"/><path d="M220.2,750.5 l0.6,2 M220.2,757.5 l0.6,2 M221.2,754.5 l0.5,1.5 M220.7,761.5 l0.5,1.5" stroke="#111" stroke-width="1.03"/><path d="M223.3,750.5 l0.6,2 M223.3,757.5 l0.6,2 M224.3,754.5 l0.5,1.5 M223.8,761.5 l0.5,1.5" stroke="#111" stroke-width="1.03"/><path d="M226.4,750.5 l0.6,2 M226.4,757.5 l0.6,2 M227.4,754.5 l0.5,1.5 M226.9,761.5 l0.5,1.5" stroke="#111" stroke-width="1.03"/>
<ellipse cx="239" cy="756.5" rx="3.3" ry="4.5" fill="#bbb" stroke="#222" stroke-width="1.03"/><ellipse cx="239.5" cy="756.5" rx="1.8" ry="3.2" fill="#fff" stroke="#222" stroke-width="0.92"/>
<ellipse cx="248.3" cy="756.5" rx="3.1" ry="4.4" fill="#222" stroke="#222" stroke-width="0.92"/><ellipse cx="248.7" cy="756.5" rx="1.1" ry="2.4" fill="#fff"/>
<path d="M254.5,752 C257,749 261,746.9 267,746.3 C274,745.9 278,750.5 278,756.5 C278,762.5 274,767.3 267,767.1 C261,766.5 257,764 254.5,761 Z" fill="#ececec" stroke="#111" stroke-width="1.38"/><path d="M256.8,750.3 A1.86,6.2 0 0 0 256.8,762.7" fill="none" stroke="#111" stroke-width="1.21"/><path d="M260,748.1 A2.52,8.4 0 0 0 260,764.9" fill="none" stroke="#111" stroke-width="1.21"/><path d="M263.5,746.9 A2.88,9.6 0 0 0 263.5,766.1" fill="none" stroke="#111" stroke-width="1.21"/><ellipse cx="271.2" cy="756.5" rx="6.4" ry="9.9" fill="#f6f6f6" stroke="#111" stroke-width="1.72"/><ellipse cx="272" cy="756.5" rx="4.2" ry="7.6" fill="#fff" stroke="#333" stroke-width="0.92"/><path d="M268.5,749.5 A2.5,7 0 0 0 268.5,763.5" fill="none" stroke="#555" stroke-width="0.8"/><line x1="270.8" y1="752" x2="273.8" y2="752" stroke="#444" stroke-width="0.92"/><line x1="270.8" y1="756.5" x2="273.8" y2="756.5" stroke="#444" stroke-width="0.92"/><line x1="270.8" y1="761" x2="273.8" y2="761" stroke="#444" stroke-width="0.92"/><line x1="274.6" y1="753.5" x2="274.6" y2="759.5" stroke="#444" stroke-width="0.92"/>
<ellipse cx="288" cy="756.5" rx="5.8" ry="9.4" fill="none" stroke="#111" stroke-width="1.95"/><ellipse cx="288.8" cy="756.5" rx="4.3" ry="8" fill="none" stroke="#444" stroke-width="0.8"/>
<path d="M360.8,753.6 H300.4 A2.6,2.9 0 0 0 300.4,759.4 H360.8" fill="#fff" stroke="#222" stroke-width="1.03"/><path d="M310.8,753.6 v5.8 M325.8,753.6 v5.8" fill="none" stroke="#999" stroke-width="0.69"/><path d="M333.8,753.6 l2.5,5.8 M335.8,753.6 l2.5,5.8" fill="none" stroke="#333" stroke-width="0.8"/><path d="M349.8,753.6 v5.8" fill="none" stroke="#999" stroke-width="0.69"/>
<path d="M376.6,753.3 H387.8 L388.8,754.2 H392.8 A1.8,2.3 0 0 1 392.8,758.8 H388.8 L387.8,759.7 H376.6 Z" fill="#fff" stroke="#222" stroke-width="1.03"/><path d="M364.2,747.5 H374.4 L378.8,753.2 V759.8 L374.4,765.5 H364.2 C359.4,764.5 359.4,748.5 364.2,747.5 Z" fill="#fff" stroke="#222" stroke-width="1.09" stroke-linejoin="round"/><path d="M373.2,750.7 L378.2,752.3 L374.8,753.6 Z M373.2,762.3 L378.2,760.7 L374.8,759.4 Z" fill="#222"/><path d="M374.1,747.9 l-1,2 M374.1,765.1 l-1,-2" stroke="#333" stroke-width="0.8"/>
<path d="M404.9,618.8 V627.6 A3.4,2.5 0 0 0 411.7,627.6 V618.8" fill="#fff" stroke="#222" stroke-width="1.03"/><path d="M404.8,618.8 A3.5,4.2 0 0 1 411.8,618.8 Z" fill="#333" stroke="#222" stroke-width="0.92"/><path d="M406.3,618 L408.3,615.6 L410.3,618" fill="none" stroke="#ddd" stroke-width="0.69"/><line x1="404.9" y1="619.6" x2="411.7" y2="619.6" stroke="#222" stroke-width="0.8"/>
<rect x="413.4" y="619.2" width="4.2" height="9.2" rx="2.1" ry="2" fill="#fff" stroke="#444" stroke-width="1.03"/><path d="M413.4,621.4 A2.1,2.3 0 0 1 417.6,621.4 Z" fill="#222"/>
<path d="M437.2,620.6 H424.2 A2.4,3.4 0 0 0 424.2,627.4 H437.2" fill="#fff" stroke="#222" stroke-width="1.03"/><path d="M428.2,620.6 l0.8,1 M428.2,627.4 l0.8,-1 M434.2,620.6 l0.6,1 M434.2,627.4 l0.6,-1" stroke="#555" stroke-width="0.69"/><path d="M436.2,620.6 C436.8,617.5 438.7,615.2 442.2,615.2 H451 A4.9,8.8 0 0 1 451,632.8 H442.2 C438.7,632.8 436.8,630.5 436.2,627.4 Z" fill="#fff" stroke="#222" stroke-width="1.03"/><ellipse cx="450.8" cy="624" rx="4.6" ry="8.4" fill="#fff" stroke="#222" stroke-width="1.15"/><ellipse cx="450.4" cy="624" rx="3.6" ry="7.4" fill="none" stroke="#444" stroke-width="0.8"/>
<ellipse cx="462.1" cy="624" rx="1.7" ry="2.6" fill="none" stroke="#222" stroke-width="1.38"/>
<ellipse cx="473.1" cy="624" rx="5.4" ry="8.6" fill="none" stroke="#111" stroke-width="1.84"/>
<path d="M485.7,614.4 C493.7,614 499.7,615.5 502.7,618 L502.7,630 C499.7,632.5 493.7,634 485.7,633.6 A4,9.6 0 0 1 485.7,614.4 Z" fill="#fff" stroke="#222" stroke-width="1.15"/><path d="M487.9,614.4 A3,9.6 0 0 0 487.9,633.6" fill="none" stroke="#333" stroke-width="1.03"/><path d="M490.9,614.95 A3,9.05 0 0 0 490.9,633.05" fill="none" stroke="#333" stroke-width="1.03"/><path d="M493.9,615.5 A3,8.5 0 0 0 493.9,632.5" fill="none" stroke="#333" stroke-width="1.03"/><path d="M496.9,616.05 A3,7.95 0 0 0 496.9,631.95" fill="none" stroke="#333" stroke-width="1.03"/><path d="M499.9,616.6 A3,7.4 0 0 0 499.9,631.4" fill="none" stroke="#333" stroke-width="1.03"/><path d="M502.9,617.15 A3,6.85 0 0 0 502.9,630.85" fill="none" stroke="#333" stroke-width="1.03"/><ellipse cx="503.2" cy="624" rx="2.7" ry="4.6" fill="#fff" stroke="#222" stroke-width="1.26"/><ellipse cx="503.6" cy="624" rx="1.4" ry="2.6" fill="#fff" stroke="#111" stroke-width="0.92"/>
<ellipse cx="511.7" cy="624" rx="3.3" ry="4.5" fill="#bbb" stroke="#222" stroke-width="1.03"/><ellipse cx="512.2" cy="624" rx="1.8" ry="3.2" fill="#fff" stroke="#222" stroke-width="0.92"/>
<ellipse cx="521" cy="624" rx="3.1" ry="4.4" fill="#222" stroke="#222" stroke-width="0.92"/><ellipse cx="521.4" cy="624" rx="1.1" ry="2.4" fill="#fff"/>
<path d="M527.2,619.5 C529.7,616.5 533.7,614.4 539.7,613.8 C546.7,613.4 550.7,618 550.7,624 C550.7,630 546.7,634.8 539.7,634.6 C533.7,634 529.7,631.5 527.2,628.5 Z" fill="#e0e0e0" stroke="#111" stroke-width="1.38"/><path d="M529.5,617.8 A1.86,6.2 0 0 0 529.5,630.2" fill="none" stroke="#111" stroke-width="1.21"/><path d="M532.1,616.1 A2.37,7.9 0 0 0 532.1,631.9" fill="none" stroke="#111" stroke-width="1.21"/><path d="M534.7,614.8 A2.76,9.2 0 0 0 534.7,633.2" fill="none" stroke="#111" stroke-width="1.21"/><path d="M537.3,614.1 A2.97,9.9 0 0 0 537.3,633.9" fill="none" stroke="#111" stroke-width="1.21"/><ellipse cx="543.9" cy="624" rx="6.4" ry="9.9" fill="#f6f6f6" stroke="#111" stroke-width="1.72"/><ellipse cx="544.7" cy="624" rx="4.2" ry="7.6" fill="#fff" stroke="#333" stroke-width="0.92"/><path d="M541.2,617 A2.5,7 0 0 0 541.2,631" fill="none" stroke="#555" stroke-width="0.8"/><circle cx="544.9" cy="619" r="0.55" fill="#222"/><circle cx="547.1" cy="620" r="0.55" fill="#222"/><circle cx="544.9" cy="622" r="0.55" fill="#222"/><circle cx="547.1" cy="623" r="0.55" fill="#222"/><circle cx="544.9" cy="625" r="0.55" fill="#222"/><circle cx="547.1" cy="626" r="0.55" fill="#222"/><circle cx="544.9" cy="628" r="0.55" fill="#222"/><circle cx="547.1" cy="629" r="0.55" fill="#222"/>
<ellipse cx="560.7" cy="624" rx="5.8" ry="9.4" fill="none" stroke="#111" stroke-width="1.95"/><ellipse cx="561.5" cy="624" rx="4.3" ry="8" fill="none" stroke="#444" stroke-width="0.8"/>
<path d="M633.5,621.1 H573.1 A2.6,2.9 0 0 0 573.1,626.9 H633.5" fill="#fff" stroke="#222" stroke-width="1.03"/><path d="M583.5,621.1 v5.8 M598.5,621.1 v5.8" fill="none" stroke="#999" stroke-width="0.69"/><path d="M606.5,621.1 l2.5,5.8 M608.5,621.1 l2.5,5.8" fill="none" stroke="#333" stroke-width="0.8"/><path d="M622.5,621.1 v5.8" fill="none" stroke="#999" stroke-width="0.69"/>
<path d="M649.3,620.8 H660.5 L661.5,621.7 H665.5 A1.8,2.3 0 0 1 665.5,626.3 H661.5 L660.5,627.2 H649.3 Z" fill="#fff" stroke="#222" stroke-width="1.03"/><path d="M636.9,615 H647.1 L651.5,620.7 V627.3 L647.1,633 H636.9 C632.1,632 632.1,616 636.9,615 Z" fill="#fff" stroke="#222" stroke-width="1.09" stroke-linejoin="round"/><path d="M645.9,618.2 L650.9,619.8 L647.5,621.1 Z M645.9,629.8 L650.9,628.2 L647.5,626.9 Z" fill="#222"/><path d="M646.8,615.4 l-1,2 M646.8,632.6 l-1,-2" stroke="#333" stroke-width="0.8"/>
<path d="M404.9,686.7 V695.5 A3.4,2.5 0 0 0 411.7,695.5 V686.7" fill="#fff" stroke="#222" stroke-width="1.03"/><path d="M404.8,686.7 A3.5,4.2 0 0 1 411.8,686.7 Z" fill="#333" stroke="#222" stroke-width="0.92"/><path d="M406.3,685.9 L408.3,683.5 L410.3,685.9" fill="none" stroke="#ddd" stroke-width="0.69"/><line x1="404.9" y1="687.5" x2="411.7" y2="687.5" stroke="#222" stroke-width="0.8"/>
<rect x="413.4" y="687.1" width="4.2" height="9.2" rx="2.1" ry="2" fill="#fff" stroke="#444" stroke-width="1.03"/>
<path d="M437.2,688.5 H424.2 A2.4,3.4 0 0 0 424.2,695.3 H437.2" fill="#fff" stroke="#222" stroke-width="1.03"/><path d="M428.2,688.5 l0.8,1 M428.2,695.3 l0.8,-1 M434.2,688.5 l0.6,1 M434.2,695.3 l0.6,-1" stroke="#555" stroke-width="0.69"/><path d="M436.2,688.5 C436.8,685.4 438.7,683.1 442.2,683.1 H451 A4.9,8.8 0 0 1 451,700.7 H442.2 C438.7,700.7 436.8,698.4 436.2,695.3 Z" fill="#fff" stroke="#222" stroke-width="1.03"/><ellipse cx="450.8" cy="691.9" rx="4.6" ry="8.4" fill="#fff" stroke="#222" stroke-width="1.15"/><ellipse cx="450.4" cy="691.9" rx="3.6" ry="7.4" fill="none" stroke="#444" stroke-width="0.8"/>
<ellipse cx="462.1" cy="691.9" rx="1.7" ry="2.6" fill="none" stroke="#222" stroke-width="1.38"/>
<ellipse cx="473.1" cy="691.9" rx="5.4" ry="8.6" fill="none" stroke="#111" stroke-width="1.84"/>
<path d="M485.7,682.3 C493.7,681.9 499.7,683.4 502.7,685.9 L502.7,697.9 C499.7,700.4 493.7,701.9 485.7,701.5 A4,9.6 0 0 1 485.7,682.3 Z" fill="#d8d8d8" stroke="#222" stroke-width="1.15"/><path d="M487.9,682.3 A3,9.6 0 0 0 487.9,701.5" fill="none" stroke="#222" stroke-width="1.26"/><path d="M490.9,682.85 A3,9.05 0 0 0 490.9,700.95" fill="none" stroke="#222" stroke-width="1.26"/><path d="M493.9,683.4 A3,8.5 0 0 0 493.9,700.4" fill="none" stroke="#222" stroke-width="1.26"/><path d="M496.9,683.95 A3,7.95 0 0 0 496.9,699.85" fill="none" stroke="#222" stroke-width="1.26"/><path d="M499.9,684.5 A3,7.4 0 0 0 499.9,699.3" fill="none" stroke="#222" stroke-width="1.26"/><path d="M502.9,685.05 A3,6.85 0 0 0 502.9,698.75" fill="none" stroke="#222" stroke-width="1.26"/><ellipse cx="503.2" cy="691.9" rx="2.7" ry="4.6" fill="#fff" stroke="#222" stroke-width="1.49"/><ellipse cx="503.6" cy="691.9" rx="1.4" ry="2.6" fill="#fff" stroke="#111" stroke-width="1.84"/><path d="M486.7,685.9 l0.6,2 M486.7,692.9 l0.6,2 M487.7,689.9 l0.5,1.5 M487.2,696.9 l0.5,1.5" stroke="#111" stroke-width="1.03"/><path d="M489.8,685.9 l0.6,2 M489.8,692.9 l0.6,2 M490.8,689.9 l0.5,1.5 M490.3,696.9 l0.5,1.5" stroke="#111" stroke-width="1.03"/><path d="M492.9,685.9 l0.6,2 M492.9,692.9 l0.6,2 M493.9,689.9 l0.5,1.5 M493.4,696.9 l0.5,1.5" stroke="#111" stroke-width="1.03"/><path d="M496,685.9 l0.6,2 M496,692.9 l0.6,2 M497,689.9 l0.5,1.5 M496.5,696.9 l0.5,1.5" stroke="#111" stroke-width="1.03"/><path d="M499.1,685.9 l0.6,2 M499.1,692.9 l0.6,2 M500.1,689.9 l0.5,1.5 M499.6,696.9 l0.5,1.5" stroke="#111" stroke-width="1.03"/>
<ellipse cx="511.7" cy="691.9" rx="3.3" ry="4.5" fill="#bbb" stroke="#222" stroke-width="1.03"/><ellipse cx="512.2" cy="691.9" rx="1.8" ry="3.2" fill="#fff" stroke="#222" stroke-width="0.92"/>
<ellipse cx="521" cy="691.9" rx="3.1" ry="4.3" fill="#fff" stroke="#333" stroke-width="1.03"/><ellipse cx="521.6" cy="691.9" rx="1.6" ry="3.1" fill="#fff" stroke="#333" stroke-width="0.92"/>
<path d="M527.2,687.1 C530.7,684.4 536.7,681.3 543.7,681.3 L543.7,702.5 C536.7,702.5 530.7,699.4 527.2,696.7 Z" fill="#fff" stroke="#222" stroke-width="1.15"/><path d="M527.5,687.1 A1.6,4.8 0 0 0 527.5,696.7" fill="none" stroke="#222" stroke-width="1.15"/><path d="M530.5,685.3 A2.2,6.6 0 0 0 530.5,698.5" fill="none" stroke="#333" stroke-width="0.92"/><path d="M533.9,683.3 A2.2,8.6 0 0 0 533.9,700.5" fill="none" stroke="#333" stroke-width="0.92"/><ellipse cx="545.2" cy="691.9" rx="5.2" ry="10.5" fill="#fff" stroke="#222" stroke-width="1.15"/><path d="M538.2,682 A4.6,9.9 0 0 0 538.2,701.8" fill="none" stroke="#333" stroke-width="0.92"/><path d="M540.7,681.6 A4.6,10.3 0 0 0 540.7,702.2" fill="none" stroke="#333" stroke-width="0.92"/><path d="M544.5,682.9 A3.9,9 0 0 0 544.5,700.9" fill="none" stroke="#333" stroke-width="0.92"/><path d="M544.5,682.9 A3.9,9 0 0 1 544.5,700.9" fill="none" stroke="#444" stroke-width="0.8"/>
<ellipse cx="560.7" cy="691.9" rx="6" ry="9.5" fill="none" stroke="#222" stroke-width="1.32"/><ellipse cx="561.7" cy="691.9" rx="4.4" ry="8.2" fill="none" stroke="#222" stroke-width="1.09"/>
<path d="M633.5,689 H573.1 A2.6,2.9 0 0 0 573.1,694.8 H633.5" fill="#fff" stroke="#222" stroke-width="1.03"/><path d="M583.5,689 v5.8 M598.5,689 v5.8" fill="none" stroke="#999" stroke-width="0.69"/><path d="M606.5,689 l2.5,5.8 M608.5,689 l2.5,5.8" fill="none" stroke="#333" stroke-width="0.8"/><path d="M622.5,689 v5.8" fill="none" stroke="#999" stroke-width="0.69"/>
<path d="M649.3,688.7 H660.5 L661.5,689.6 H665.5 A1.8,2.3 0 0 1 665.5,694.2 H661.5 L660.5,695.1 H649.3 Z" fill="#fff" stroke="#222" stroke-width="1.03"/><path d="M636.9,682.9 H647.1 L651.5,688.6 V695.2 L647.1,700.9 H636.9 C632.1,699.9 632.1,683.9 636.9,682.9 Z" fill="#fff" stroke="#222" stroke-width="1.09" stroke-linejoin="round"/><path d="M645.9,686.1 L650.9,687.7 L647.5,689 Z M645.9,697.7 L650.9,696.1 L647.5,694.8 Z" fill="#222"/><path d="M646.8,683.3 l-1,2 M646.8,700.5 l-1,-2" stroke="#333" stroke-width="0.8"/>
<path d="M404.9,751.3 V760.1 A3.4,2.5 0 0 0 411.7,760.1 V751.3" fill="#fff" stroke="#222" stroke-width="1.03"/><path d="M404.8,751.3 A3.5,4.2 0 0 1 411.8,751.3 Z" fill="#333" stroke="#222" stroke-width="0.92"/><path d="M406.3,750.5 L408.3,748.1 L410.3,750.5" fill="none" stroke="#ddd" stroke-width="0.69"/><line x1="404.9" y1="752.1" x2="411.7" y2="752.1" stroke="#222" stroke-width="0.8"/>
<rect x="413.4" y="751.7" width="4.2" height="9.2" rx="2.1" ry="2" fill="#fff" stroke="#444" stroke-width="1.03"/><path d="M413.4,753.9 A2.1,2.3 0 0 1 417.6,753.9 Z" fill="#222"/>
<path d="M437.2,753.1 H424.2 A2.4,3.4 0 0 0 424.2,759.9 H437.2" fill="#fff" stroke="#222" stroke-width="1.03"/><path d="M428.2,753.1 l0.8,1 M428.2,759.9 l0.8,-1 M434.2,753.1 l0.6,1 M434.2,759.9 l0.6,-1" stroke="#555" stroke-width="0.69"/><path d="M436.2,753.1 C436.8,750 438.7,747.7 442.2,747.7 H451 A4.9,8.8 0 0 1 451,765.3 H442.2 C438.7,765.3 436.8,763 436.2,759.9 Z" fill="#fff" stroke="#222" stroke-width="1.03"/><ellipse cx="450.8" cy="756.5" rx="4.6" ry="8.4" fill="#fff" stroke="#222" stroke-width="1.15"/><ellipse cx="450.4" cy="756.5" rx="3.6" ry="7.4" fill="none" stroke="#444" stroke-width="0.8"/>
<ellipse cx="462.1" cy="756.5" rx="1.7" ry="2.6" fill="none" stroke="#222" stroke-width="1.38"/>
<ellipse cx="473.1" cy="756.5" rx="5.4" ry="8.6" fill="none" stroke="#111" stroke-width="1.84"/>
<path d="M485.7,746.9 C493.7,746.5 499.7,748 502.7,750.5 L502.7,762.5 C499.7,765 493.7,766.5 485.7,766.1 A4,9.6 0 0 1 485.7,746.9 Z" fill="#fff" stroke="#222" stroke-width="1.15"/><path d="M487.9,746.9 A3,9.6 0 0 0 487.9,766.1" fill="none" stroke="#333" stroke-width="1.03"/><path d="M490.9,747.45 A3,9.05 0 0 0 490.9,765.55" fill="none" stroke="#333" stroke-width="1.03"/><path d="M493.9,748 A3,8.5 0 0 0 493.9,765" fill="none" stroke="#333" stroke-width="1.03"/><path d="M496.9,748.55 A3,7.95 0 0 0 496.9,764.45" fill="none" stroke="#333" stroke-width="1.03"/><path d="M499.9,749.1 A3,7.4 0 0 0 499.9,763.9" fill="none" stroke="#333" stroke-width="1.03"/><path d="M502.9,749.65 A3,6.85 0 0 0 502.9,763.35" fill="none" stroke="#333" stroke-width="1.03"/><ellipse cx="503.2" cy="756.5" rx="2.7" ry="4.6" fill="#fff" stroke="#222" stroke-width="1.26"/><ellipse cx="503.6" cy="756.5" rx="1.4" ry="2.6" fill="#fff" stroke="#111" stroke-width="0.92"/>
<ellipse cx="511.7" cy="756.5" rx="3.3" ry="4.5" fill="#bbb" stroke="#222" stroke-width="1.03"/><ellipse cx="512.2" cy="756.5" rx="1.8" ry="3.2" fill="#fff" stroke="#222" stroke-width="0.92"/>
<ellipse cx="521" cy="756.5" rx="3.1" ry="4.4" fill="#222" stroke="#222" stroke-width="0.92"/><ellipse cx="521.4" cy="756.5" rx="1.1" ry="2.4" fill="#fff"/>
<path d="M527.2,751.7 C530.7,749 536.7,745.9 543.7,745.9 L543.7,767.1 C536.7,767.1 530.7,764 527.2,761.3 Z" fill="#fff" stroke="#222" stroke-width="1.15"/><path d="M527.5,751.7 A1.6,4.8 0 0 0 527.5,761.3" fill="none" stroke="#222" stroke-width="1.15"/><path d="M530.5,749.9 A2.2,6.6 0 0 0 530.5,763.1" fill="none" stroke="#333" stroke-width="0.92"/><path d="M533.9,747.9 A2.2,8.6 0 0 0 533.9,765.1" fill="none" stroke="#333" stroke-width="0.92"/><ellipse cx="545.2" cy="756.5" rx="5.2" ry="10.5" fill="#fff" stroke="#222" stroke-width="1.15"/><path d="M538.2,746.6 A4.6,9.9 0 0 0 538.2,766.4" fill="none" stroke="#333" stroke-width="0.92"/><path d="M540.7,746.2 A4.6,10.3 0 0 0 540.7,766.8" fill="none" stroke="#333" stroke-width="0.92"/><path d="M544.5,747.5 A3.9,9 0 0 0 544.5,765.5" fill="none" stroke="#333" stroke-width="0.92"/><path d="M544.5,747.5 A3.9,9 0 0 1 544.5,765.5" fill="none" stroke="#444" stroke-width="0.8"/>
<ellipse cx="560.7" cy="756.5" rx="5.6" ry="9.2" fill="none" stroke="#111" stroke-width="2.76"/><ellipse cx="561.5" cy="756.5" rx="3.9" ry="7.6" fill="none" stroke="#333" stroke-width="0.92"/>
<path d="M633.5,753.6 H573.1 A2.6,2.9 0 0 0 573.1,759.4 H633.5" fill="#fff" stroke="#222" stroke-width="1.03"/><path d="M583.5,753.6 v5.8 M598.5,753.6 v5.8" fill="none" stroke="#999" stroke-width="0.69"/><path d="M606.5,753.6 l2.5,5.8 M608.5,753.6 l2.5,5.8" fill="none" stroke="#333" stroke-width="0.8"/><path d="M622.5,753.6 v5.8" fill="none" stroke="#999" stroke-width="0.69"/>
<path d="M649.3,753.3 H660.5 L661.5,754.2 H665.5 A1.8,2.3 0 0 1 665.5,758.8 H661.5 L660.5,759.7 H649.3 Z" fill="#fff" stroke="#222" stroke-width="1.03"/><path d="M636.9,747.5 H647.1 L651.5,753.2 V759.8 L647.1,765.5 H636.9 C632.1,764.5 632.1,748.5 636.9,747.5 Z" fill="#fff" stroke="#222" stroke-width="1.09" stroke-linejoin="round"/><path d="M645.9,750.7 L650.9,752.3 L647.5,753.6 Z M645.9,762.3 L650.9,760.7 L647.5,759.4 Z" fill="#222"/><path d="M646.8,747.9 l-1,2 M646.8,765.1 l-1,-2" stroke="#333" stroke-width="0.8"/>
<line x1="135.8" y1="48.8" x2="340.6" y2="48.8" stroke="#444" stroke-width="1"/>
<line x1="135.8" y1="48.8" x2="135.8" y2="57.8" stroke="#444" stroke-width="1"/>
<line x1="183.7" y1="48.8" x2="183.7" y2="63.6" stroke="#444" stroke-width="1"/>
<line x1="194.5" y1="48.8" x2="194.5" y2="57.6" stroke="#444" stroke-width="1"/>
<line x1="234.2" y1="48.8" x2="234.2" y2="62.6" stroke="#444" stroke-width="1"/>
<line x1="243.4" y1="48.8" x2="243.4" y2="62.6" stroke="#444" stroke-width="1"/>
<line x1="264.3" y1="48.8" x2="264.3" y2="56.8" stroke="#444" stroke-width="1"/>
<line x1="287" y1="48.8" x2="287" y2="57" stroke="#444" stroke-width="1"/>
<line x1="340.6" y1="48.8" x2="340.6" y2="64.3" stroke="#444" stroke-width="1"/>
<line x1="238" y1="40.8" x2="238" y2="48.8" stroke="#444" stroke-width="1"/>
<line x1="135.8" y1="117.1" x2="234.6" y2="117.1" stroke="#444" stroke-width="1"/>
<line x1="135.8" y1="117.1" x2="135.8" y2="125.8" stroke="#444" stroke-width="1"/>
<line x1="165.6" y1="117.1" x2="165.6" y2="126.5" stroke="#444" stroke-width="1"/>
<line x1="183.7" y1="117.1" x2="183.7" y2="131.6" stroke="#444" stroke-width="1"/>
<line x1="194.5" y1="117.1" x2="194.5" y2="125.6" stroke="#444" stroke-width="1"/>
<line x1="216.9" y1="117.1" x2="216.9" y2="125.6" stroke="#444" stroke-width="1"/>
<line x1="234.6" y1="117.1" x2="234.6" y2="130.6" stroke="#444" stroke-width="1"/>
<line x1="184.8" y1="109.1" x2="184.8" y2="117.1" stroke="#444" stroke-width="1"/>
<line x1="135.8" y1="185.2" x2="287.4" y2="185.2" stroke="#444" stroke-width="1"/>
<line x1="135.8" y1="185.2" x2="135.8" y2="194.2" stroke="#444" stroke-width="1"/>
<line x1="142.9" y1="185.2" x2="142.9" y2="198.8" stroke="#444" stroke-width="1"/>
<line x1="183.7" y1="185.2" x2="183.7" y2="200" stroke="#444" stroke-width="1"/>
<line x1="194.5" y1="185.2" x2="194.5" y2="194" stroke="#444" stroke-width="1"/>
<line x1="216.8" y1="185.2" x2="216.8" y2="194" stroke="#444" stroke-width="1"/>
<line x1="234.2" y1="185.2" x2="234.2" y2="199" stroke="#444" stroke-width="1"/>
<line x1="243.4" y1="185.2" x2="243.4" y2="199" stroke="#444" stroke-width="1"/>
<line x1="264.3" y1="185.2" x2="264.3" y2="193.2" stroke="#444" stroke-width="1"/>
<line x1="287.4" y1="185.2" x2="287.4" y2="193.4" stroke="#444" stroke-width="1"/>
<line x1="211" y1="176.5" x2="211" y2="185.2" stroke="#444" stroke-width="1"/>
<line x1="409.5" y1="48.7" x2="560.7" y2="48.7" stroke="#444" stroke-width="1"/>
<line x1="409.5" y1="48.7" x2="409.5" y2="57.8" stroke="#444" stroke-width="1"/>
<line x1="416.6" y1="48.7" x2="416.6" y2="62.4" stroke="#444" stroke-width="1"/>
<line x1="457.4" y1="48.7" x2="457.4" y2="63.6" stroke="#444" stroke-width="1"/>
<line x1="468.2" y1="48.7" x2="468.2" y2="57.6" stroke="#444" stroke-width="1"/>
<line x1="507.9" y1="48.7" x2="507.9" y2="62.6" stroke="#444" stroke-width="1"/>
<line x1="517.1" y1="48.7" x2="517.1" y2="62.6" stroke="#444" stroke-width="1"/>
<line x1="538" y1="48.7" x2="538" y2="56.8" stroke="#444" stroke-width="1"/>
<line x1="560.7" y1="48.7" x2="560.7" y2="57" stroke="#444" stroke-width="1"/>
<line x1="484.7" y1="39.5" x2="484.7" y2="48.7" stroke="#444" stroke-width="1"/>
<line x1="409.5" y1="116.8" x2="507.9" y2="116.8" stroke="#444" stroke-width="1"/>
<line x1="409.5" y1="116.8" x2="409.5" y2="125.8" stroke="#444" stroke-width="1"/>
<line x1="457.4" y1="116.8" x2="457.4" y2="131.6" stroke="#444" stroke-width="1"/>
<line x1="468.2" y1="116.8" x2="468.2" y2="125.6" stroke="#444" stroke-width="1"/>
<line x1="488.3" y1="116.8" x2="488.3" y2="125.6" stroke="#444" stroke-width="1"/>
<line x1="507.9" y1="116.8" x2="507.9" y2="130.6" stroke="#444" stroke-width="1"/>
<line x1="458.6" y1="107.5" x2="458.6" y2="116.8" stroke="#444" stroke-width="1"/>
<line x1="409.5" y1="184.7" x2="560.7" y2="184.7" stroke="#444" stroke-width="1"/>
<line x1="409.5" y1="184.7" x2="409.5" y2="194.2" stroke="#444" stroke-width="1"/>
<line x1="416.6" y1="184.7" x2="416.6" y2="198.8" stroke="#444" stroke-width="1"/>
<line x1="457.4" y1="184.7" x2="457.4" y2="200" stroke="#444" stroke-width="1"/>
<line x1="468.2" y1="184.7" x2="468.2" y2="194" stroke="#444" stroke-width="1"/>
<line x1="507.9" y1="184.7" x2="507.9" y2="199" stroke="#444" stroke-width="1"/>
<line x1="517.1" y1="184.7" x2="517.1" y2="199" stroke="#444" stroke-width="1"/>
<line x1="560.7" y1="184.7" x2="560.7" y2="193.4" stroke="#444" stroke-width="1"/>
<line x1="484.7" y1="176" x2="484.7" y2="184.7" stroke="#444" stroke-width="1"/>
<line x1="135.8" y1="605.9" x2="341" y2="605.9" stroke="#444" stroke-width="1"/>
<line x1="135.8" y1="605.9" x2="135.8" y2="614.6" stroke="#444" stroke-width="1"/>
<line x1="189.4" y1="605.9" x2="189.4" y2="620.4" stroke="#444" stroke-width="1"/>
<line x1="200.4" y1="605.9" x2="200.4" y2="614.4" stroke="#444" stroke-width="1"/>
<line x1="239" y1="605.9" x2="239" y2="619.4" stroke="#444" stroke-width="1"/>
<line x1="248.3" y1="605.9" x2="248.3" y2="619.4" stroke="#444" stroke-width="1"/>
<line x1="267.4" y1="605.9" x2="267.4" y2="613.6" stroke="#444" stroke-width="1"/>
<line x1="288" y1="605.9" x2="288" y2="613.8" stroke="#444" stroke-width="1"/>
<line x1="341" y1="605.9" x2="341" y2="621.1" stroke="#444" stroke-width="1"/>
<line x1="238.4" y1="596.5" x2="238.4" y2="605.9" stroke="#444" stroke-width="1"/>
<line x1="135.8" y1="673.9" x2="239.4" y2="673.9" stroke="#444" stroke-width="1"/>
<line x1="135.8" y1="673.9" x2="135.8" y2="682.5" stroke="#444" stroke-width="1"/>
<line x1="170.2" y1="673.9" x2="170.2" y2="683.2" stroke="#444" stroke-width="1"/>
<line x1="189.4" y1="673.9" x2="189.4" y2="688.3" stroke="#444" stroke-width="1"/>
<line x1="200.4" y1="673.9" x2="200.4" y2="682.3" stroke="#444" stroke-width="1"/>
<line x1="219.2" y1="673.9" x2="219.2" y2="682.3" stroke="#444" stroke-width="1"/>
<line x1="239.4" y1="673.9" x2="239.4" y2="687.3" stroke="#444" stroke-width="1"/>
<line x1="187.7" y1="664.5" x2="187.7" y2="673.9" stroke="#444" stroke-width="1"/>
<line x1="135.8" y1="738.3" x2="288.2" y2="738.3" stroke="#444" stroke-width="1"/>
<line x1="135.8" y1="738.3" x2="135.8" y2="747.1" stroke="#444" stroke-width="1"/>
<line x1="142.9" y1="738.3" x2="142.9" y2="751.7" stroke="#444" stroke-width="1"/>
<line x1="189.6" y1="738.3" x2="189.6" y2="752.9" stroke="#444" stroke-width="1"/>
<line x1="199.6" y1="738.3" x2="199.6" y2="746.9" stroke="#444" stroke-width="1"/>
<line x1="222.7" y1="738.3" x2="222.7" y2="746.9" stroke="#444" stroke-width="1"/>
<line x1="239.2" y1="738.3" x2="239.2" y2="751.9" stroke="#444" stroke-width="1"/>
<line x1="248.5" y1="738.3" x2="248.5" y2="751.9" stroke="#444" stroke-width="1"/>
<line x1="267" y1="738.3" x2="267" y2="746.1" stroke="#444" stroke-width="1"/>
<line x1="288.2" y1="738.3" x2="288.2" y2="746.3" stroke="#444" stroke-width="1"/>
<line x1="211.7" y1="729" x2="211.7" y2="738.3" stroke="#444" stroke-width="1"/>
<line x1="408.5" y1="605.8" x2="560.7" y2="605.8" stroke="#444" stroke-width="1"/>
<line x1="408.5" y1="605.8" x2="408.5" y2="614.6" stroke="#444" stroke-width="1"/>
<line x1="415.6" y1="605.8" x2="415.6" y2="619.2" stroke="#444" stroke-width="1"/>
<line x1="462.1" y1="605.8" x2="462.1" y2="620.4" stroke="#444" stroke-width="1"/>
<line x1="473.1" y1="605.8" x2="473.1" y2="614.4" stroke="#444" stroke-width="1"/>
<line x1="511.7" y1="605.8" x2="511.7" y2="619.4" stroke="#444" stroke-width="1"/>
<line x1="521" y1="605.8" x2="521" y2="619.4" stroke="#444" stroke-width="1"/>
<line x1="540.1" y1="605.8" x2="540.1" y2="613.6" stroke="#444" stroke-width="1"/>
<line x1="560.7" y1="605.8" x2="560.7" y2="613.8" stroke="#444" stroke-width="1"/>
<line x1="484.4" y1="596.5" x2="484.4" y2="605.8" stroke="#444" stroke-width="1"/>
<line x1="408.5" y1="673.9" x2="511.7" y2="673.9" stroke="#444" stroke-width="1"/>
<line x1="408.5" y1="673.9" x2="408.5" y2="682.5" stroke="#444" stroke-width="1"/>
<line x1="462.1" y1="673.9" x2="462.1" y2="688.3" stroke="#444" stroke-width="1"/>
<line x1="473.1" y1="673.9" x2="473.1" y2="682.3" stroke="#444" stroke-width="1"/>
<line x1="493.7" y1="673.9" x2="493.7" y2="682.3" stroke="#444" stroke-width="1"/>
<line x1="511.7" y1="673.9" x2="511.7" y2="687.3" stroke="#444" stroke-width="1"/>
<line x1="462.1" y1="664.5" x2="462.1" y2="673.9" stroke="#444" stroke-width="1"/>
<line x1="408.5" y1="738.7" x2="560.7" y2="738.7" stroke="#444" stroke-width="1"/>
<line x1="408.5" y1="738.7" x2="408.5" y2="747.1" stroke="#444" stroke-width="1"/>
<line x1="415.6" y1="738.7" x2="415.6" y2="751.7" stroke="#444" stroke-width="1"/>
<line x1="462.1" y1="738.7" x2="462.1" y2="752.9" stroke="#444" stroke-width="1"/>
<line x1="473.1" y1="738.7" x2="473.1" y2="746.9" stroke="#444" stroke-width="1"/>
<line x1="511.7" y1="738.7" x2="511.7" y2="751.9" stroke="#444" stroke-width="1"/>
<line x1="521" y1="738.7" x2="521" y2="751.9" stroke="#444" stroke-width="1"/>
<line x1="560.7" y1="738.7" x2="560.7" y2="746.3" stroke="#444" stroke-width="1"/>
<line x1="484.4" y1="729" x2="484.4" y2="738.7" stroke="#444" stroke-width="1"/>
<text x="213.2" y="36.8" font-size="14" text-anchor="start" font-weight="normal" fill="#333" >22510A</text>
<text x="460.3" y="36.9" font-size="14" text-anchor="start" font-weight="normal" fill="#333" >22530A</text>
<text x="439.7" y="105.4" font-size="14" text-anchor="start" font-weight="normal" fill="#333" >22540</text>
<text x="193" y="174.2" font-size="14" text-anchor="start" font-weight="normal" fill="#333" >2253X</text>
<text x="466" y="174.6" font-size="14" text-anchor="start" font-weight="normal" fill="#333" >22550</text>
<text x="215.6" y="594" font-size="14" text-anchor="start" font-weight="normal" fill="#333" >22510A</text>
<text x="462.4" y="594.1" font-size="14" text-anchor="start" font-weight="normal" fill="#333" >22530A</text>
<text x="169.2" y="662.2" font-size="14" text-anchor="start" font-weight="normal" fill="#333" >22620</text>
<text x="441.3" y="662.6" font-size="14" text-anchor="start" font-weight="normal" fill="#333" >22540</text>
<text x="193.6" y="726.7" font-size="14" text-anchor="start" font-weight="normal" fill="#333" >2253X</text>
<text x="466.6" y="726" font-size="14" text-anchor="start" font-weight="normal" fill="#333" >22550</text>
<rect x="162.2" y="95.4" width="54.4" height="13.6" fill="#ff8585" stroke="#ff2a2a" stroke-width="1.2"/>
<text x="164.5" y="106.9" font-size="13.8" text-anchor="start" font-weight="normal" fill="#9a2222" >22520A</text>
<text x="223.6" y="27.2" font-size="12.1" text-anchor="start" font-weight="normal" fill="#222" stroke="#222" stroke-width="0.25">KIA KKMAPBL06 - 22520A</text>
<path d="M391.60,228.86 L385.15,237.10 L378.71,244.83 L372.26,252.10 L365.81,258.94 L359.36,265.39 L352.92,271.48 L346.47,277.25 L340.02,282.74 L333.58,287.99 L327.13,293.02 L320.68,297.88 L314.24,302.60 L307.79,307.22 L301.34,311.78 L294.89,316.30 L288.45,320.84 L282.00,325.42 L282.00,326.25 L289.06,322.63 L296.13,318.81 L303.19,314.80 L310.26,310.58 L317.32,306.17 L324.39,301.55 L331.45,296.72 L338.52,291.68 L345.58,286.43 L352.65,280.96 L359.71,275.26 L366.78,269.35 L373.84,263.20 L380.91,256.83 L387.97,250.22 L395.04,243.38 L402.10,236.29 Z" fill="#000" stroke="#000" stroke-width="0.3" stroke-linejoin="round"/>
<path d="M498.25,486.87 L492.28,492.43 L486.31,497.92 L480.34,503.33 L474.37,508.65 L468.40,513.88 L462.43,518.99 L456.46,523.98 L450.49,528.84 L444.51,533.54 L438.54,538.09 L432.57,542.46 L426.60,546.65 L420.63,550.64 L414.66,554.43 L408.69,557.99 L402.72,561.33 L396.75,564.42 L407.25,570.50 L412.60,566.98 L417.96,563.07 L423.31,559.08 L428.66,554.99 L434.01,550.80 L439.37,546.50 L444.72,542.07 L450.07,537.50 L455.43,532.79 L460.78,527.92 L466.13,522.88 L471.49,517.66 L476.84,512.25 L482.19,506.64 L487.54,500.81 L492.90,494.77 L498.25,488.49 Z" fill="#000" stroke="#000" stroke-width="0.3" stroke-linejoin="round"/>
<g transform="translate(132,259.7) rotate(29.4)"><path d="M36,-13.2 C42,-13.9 49,-14.2 53,-13.4 C57.5,-12.4 62,-10 65.5,-7.2 L68.5,-4.5 L68.5,4.5 L65.5,7.6 C62,10.8 57.5,13.4 53,14.4 C49,15 42,14.8 36,13.8 A4.6,13.5 0 0 1 36,-13.2 Z" fill="#fff" stroke="#222" stroke-width="1"/><ellipse cx="36" cy="0.3" rx="4.6" ry="13.5" fill="#fff" stroke="#222" stroke-width="1"/><path d="M39,-13.2 A3.6,13.6 0 0 1 39,13.9" fill="none" stroke="#333" stroke-width="0.8"/><path d="M44,-13.8 A3.6,14 0 0 1 44,14.4" fill="none" stroke="#111" stroke-width="1.6"/><path d="M48.5,-14 A3,14 0 0 1 48.5,14" fill="none" stroke="#222" stroke-width="1"/><path d="M52.5,-13.7 A3,13.7 0 0 1 52.5,13.7" fill="none" stroke="#222" stroke-width="1"/><path d="M56.5,-12.6 A3,12.6 0 0 1 56.5,12.6" fill="none" stroke="#222" stroke-width="1"/><path d="M60.5,-10.6 A3,10.6 0 0 1 60.5,10.6" fill="none" stroke="#222" stroke-width="1"/><path d="M64,-8.2 A3,8.2 0 0 1 64,8.2" fill="none" stroke="#222" stroke-width="1"/><circle cx="48.5" cy="-9" r="0.5" fill="#333"/><circle cx="48.5" cy="-4" r="0.5" fill="#333"/><circle cx="48.5" cy="1" r="0.5" fill="#333"/><circle cx="48.5" cy="6" r="0.5" fill="#333"/><circle cx="48.5" cy="10" r="0.5" fill="#333"/><circle cx="52.5" cy="-9" r="0.5" fill="#333"/><circle cx="52.5" cy="-4" r="0.5" fill="#333"/><circle cx="52.5" cy="1" r="0.5" fill="#333"/><circle cx="52.5" cy="6" r="0.5" fill="#333"/><circle cx="52.5" cy="10" r="0.5" fill="#333"/><circle cx="56.5" cy="-9" r="0.5" fill="#333"/><circle cx="56.5" cy="-4" r="0.5" fill="#333"/><circle cx="56.5" cy="1" r="0.5" fill="#333"/><circle cx="56.5" cy="6" r="0.5" fill="#333"/><circle cx="56.5" cy="10" r="0.5" fill="#333"/><circle cx="60.5" cy="-9" r="0.5" fill="#333"/><circle cx="60.5" cy="-4" r="0.5" fill="#333"/><circle cx="60.5" cy="1" r="0.5" fill="#333"/><circle cx="60.5" cy="6" r="0.5" fill="#333"/><circle cx="60.5" cy="10" r="0.5" fill="#333"/><ellipse cx="66.5" cy="0.3" rx="2.2" ry="5.6" fill="#fff" stroke="#222" stroke-width="0.9"/><path d="M37,-3.3 H12 A2.2,3.3 0 0 0 12,3.3 H37 Z" fill="#fff" stroke="#222" stroke-width="0.9"/><rect x="17" y="-3.3" width="15" height="6.6" fill="#555"/><line x1="17.5" y1="-3.2" x2="17.5" y2="3.2" stroke="#aaa" stroke-width="0.45"/><line x1="19.0" y1="-3.2" x2="19.0" y2="3.2" stroke="#aaa" stroke-width="0.45"/><line x1="20.5" y1="-3.2" x2="20.5" y2="3.2" stroke="#aaa" stroke-width="0.45"/><line x1="22.0" y1="-3.2" x2="22.0" y2="3.2" stroke="#aaa" stroke-width="0.45"/><line x1="23.5" y1="-3.2" x2="23.5" y2="3.2" stroke="#aaa" stroke-width="0.45"/><line x1="25.0" y1="-3.2" x2="25.0" y2="3.2" stroke="#aaa" stroke-width="0.45"/><line x1="26.5" y1="-3.2" x2="26.5" y2="3.2" stroke="#aaa" stroke-width="0.45"/><line x1="28.0" y1="-3.2" x2="28.0" y2="3.2" stroke="#aaa" stroke-width="0.45"/><line x1="29.5" y1="-3.2" x2="29.5" y2="3.2" stroke="#aaa" stroke-width="0.45"/><line x1="31.0" y1="-3.2" x2="31.0" y2="3.2" stroke="#aaa" stroke-width="0.45"/><line x1="14" y1="-3.3" x2="14" y2="3.3" stroke="#444" stroke-width="0.6"/><ellipse cx="34" cy="0" rx="1.6" ry="4.4" fill="#fff" stroke="#333" stroke-width="0.8"/><path d="M68,-4 H126 M68,4 H126" stroke="#222" stroke-width="1"/><rect x="68" y="-3.6" width="58" height="7.2" fill="#fff"/><path d="M68,-4 H126 M68,4 H126" stroke="#222" stroke-width="1"/><path d="M127.5,-4.5 L129.5,-8 C132,-11.2 136.5,-12.8 143,-13 C152,-12.8 162,-12.3 170,-11.8 A5.2,12.1 0 0 1 170,12.3 C162,12.6 152,13.2 143,13.4 C136.5,13.2 132,11.8 129.5,8.5 L127.5,4.5 Z" fill="#fff" stroke="#222" stroke-width="1"/><path d="M127.5,-4.5 C131,-11.5 137,-13 141,-13.1 L141,13.5 C137,13.4 131,12 127.5,4.5 Z" fill="#ddd"/><path d="M128.5,-6.5 A2.5,6.5 0 0 1 128.5,6.5" fill="none" stroke="#111" stroke-width="1.1"/><path d="M130.6,-9.5 A2.5,9.5 0 0 1 130.6,9.5" fill="none" stroke="#111" stroke-width="1.1"/><path d="M132.8,-11.2 A2.5,11.2 0 0 1 132.8,11.2" fill="none" stroke="#111" stroke-width="1.1"/><path d="M135,-12.3 A2.5,12.3 0 0 1 135,12.3" fill="none" stroke="#111" stroke-width="1.1"/><path d="M137.2,-12.9 A2.5,12.9 0 0 1 137.2,12.9" fill="none" stroke="#111" stroke-width="1.1"/><path d="M139.4,-13.1 A2.5,13.1 0 0 1 139.4,13.1" fill="none" stroke="#111" stroke-width="1.1"/><path d="M130,-8 l0.8,1.6" stroke="#111" stroke-width="0.9"/><path d="M130,-3 l0.8,1.6" stroke="#111" stroke-width="0.9"/><path d="M130,2 l0.8,1.6" stroke="#111" stroke-width="0.9"/><path d="M130,7 l0.8,1.6" stroke="#111" stroke-width="0.9"/><path d="M132.2,-8 l0.8,1.6" stroke="#111" stroke-width="0.9"/><path d="M132.2,-3 l0.8,1.6" stroke="#111" stroke-width="0.9"/><path d="M132.2,2 l0.8,1.6" stroke="#111" stroke-width="0.9"/><path d="M132.2,7 l0.8,1.6" stroke="#111" stroke-width="0.9"/><path d="M134.4,-8 l0.8,1.6" stroke="#111" stroke-width="0.9"/><path d="M134.4,-3 l0.8,1.6" stroke="#111" stroke-width="0.9"/><path d="M134.4,2 l0.8,1.6" stroke="#111" stroke-width="0.9"/><path d="M134.4,7 l0.8,1.6" stroke="#111" stroke-width="0.9"/><path d="M136.6,-8 l0.8,1.6" stroke="#111" stroke-width="0.9"/><path d="M136.6,-3 l0.8,1.6" stroke="#111" stroke-width="0.9"/><path d="M136.6,2 l0.8,1.6" stroke="#111" stroke-width="0.9"/><path d="M136.6,7 l0.8,1.6" stroke="#111" stroke-width="0.9"/><path d="M138.6,-8 l0.8,1.6" stroke="#111" stroke-width="0.9"/><path d="M138.6,-3 l0.8,1.6" stroke="#111" stroke-width="0.9"/><path d="M138.6,2 l0.8,1.6" stroke="#111" stroke-width="0.9"/><path d="M138.6,7 l0.8,1.6" stroke="#111" stroke-width="0.9"/><path d="M141.5,-13.4 A3.5,13.6 0 0 1 141.5,13.8 M144,-13.4 A3.5,13.6 0 0 1 144,13.8" fill="none" stroke="#222" stroke-width="0.9"/><path d="M160,-12.3 A4,12.3 0 0 1 160,12.3" fill="none" stroke="#aaa" stroke-width="0.6"/><ellipse cx="170" cy="0.2" rx="5.2" ry="12.2" fill="#fff" stroke="#222" stroke-width="1"/><ellipse cx="170.6" cy="1" rx="3.6" ry="8.4" fill="#fff" stroke="#111" stroke-width="2"/><ellipse cx="171" cy="1" rx="2.2" ry="6" fill="none" stroke="#555" stroke-width="0.7"/></g>
<path d="M124.9,258.7 L128.1,252.9 L132.4,252.2 L137.6,253.2 L139.5,257.1 L138.9,261.7 L135.3,266.2 L130.4,267.5 L127.5,264.9 L125.2,261.7 Z" fill="#f4f4f4" stroke="#222" stroke-width="1"/>
<path d="M126.5,256 L127.5,263.5 M129.3,253.2 L128.2,258" fill="none" stroke="#555" stroke-width="0.8"/>
<ellipse cx="134.2" cy="260.3" rx="4.5" ry="6.2" transform="rotate(20 134.2 260.3)" fill="#fff" stroke="#222" stroke-width="0.9"/>
<path d="M135.6,257.6 A2.2,3.4 20 1 0 135.9,262.6" fill="none" stroke="#111" stroke-width="1.3"/>
<line x1="140" y1="257.7" x2="157.8" y2="257.7" stroke="#444" stroke-width="1"/>
<text x="162.2" y="263.4" font-size="14" text-anchor="start" font-weight="normal" fill="#333" >1325AA</text>
<line x1="219.5" y1="316" x2="219.5" y2="332.5" stroke="#444" stroke-width="1"/>
<text x="199.6" y="346.6" font-size="14" text-anchor="start" font-weight="normal" fill="#333" >49500R</text>
<g transform="translate(650.25,554.75) rotate(209.5)"><path d="M37,-3.4 H12.5 A2.2,3.4 0 0 0 12.5,3.4 H37 Z" fill="#fff" stroke="#222" stroke-width="0.9"/><rect x="16" y="-3.4" width="15" height="6.8" fill="#555"/><line x1="16.5" y1="-3.3" x2="16.5" y2="3.3" stroke="#aaa" stroke-width="0.45"/><line x1="18.0" y1="-3.3" x2="18.0" y2="3.3" stroke="#aaa" stroke-width="0.45"/><line x1="19.5" y1="-3.3" x2="19.5" y2="3.3" stroke="#aaa" stroke-width="0.45"/><line x1="21.0" y1="-3.3" x2="21.0" y2="3.3" stroke="#aaa" stroke-width="0.45"/><line x1="22.5" y1="-3.3" x2="22.5" y2="3.3" stroke="#aaa" stroke-width="0.45"/><line x1="24.0" y1="-3.3" x2="24.0" y2="3.3" stroke="#aaa" stroke-width="0.45"/><line x1="25.5" y1="-3.3" x2="25.5" y2="3.3" stroke="#aaa" stroke-width="0.45"/><line x1="27.0" y1="-3.3" x2="27.0" y2="3.3" stroke="#aaa" stroke-width="0.45"/><line x1="28.5" y1="-3.3" x2="28.5" y2="3.3" stroke="#aaa" stroke-width="0.45"/><line x1="30.0" y1="-3.3" x2="30.0" y2="3.3" stroke="#aaa" stroke-width="0.45"/><path d="M31,-4.2 H37 M31,4.2 H37" stroke="#222" stroke-width="0.8"/><path d="M71,-4.4 L69,-6.5 C66,-10 62,-13 56,-14.2 L50,-14.6 C44,-14.4 39,-13 36.5,-10 C34.5,-6 34.5,6 36.5,10 C39,13 44,14.4 50,14.4 L56,14 C62,13 66,10 69,6.5 L71,4.4 Z" fill="#fff" stroke="#222" stroke-width="1"/><ellipse cx="37" cy="0" rx="3.4" ry="10.6" fill="#fff" stroke="#222" stroke-width="0.9"/><ellipse cx="37.6" cy="0" rx="2.2" ry="5.5" fill="#fff" stroke="#333" stroke-width="0.8"/><path d="M50,-14.6 A3,14.5 0 0 0 50,14.4" fill="none" stroke="#333" stroke-width="0.8"/><path d="M51,-14.3 A2.6,14.3 0 0 1 51,14.3" fill="none" stroke="#222" stroke-width="0.9"/><path d="M54,-14 A2.6,14 0 0 1 54,14" fill="none" stroke="#222" stroke-width="0.9"/><path d="M57,-13.2 A2.6,13.2 0 0 1 57,13.2" fill="none" stroke="#222" stroke-width="0.9"/><path d="M60,-12 A2.6,12 0 0 1 60,12" fill="none" stroke="#222" stroke-width="0.9"/><path d="M63,-10 A2.6,10 0 0 1 63,10" fill="none" stroke="#222" stroke-width="0.9"/><path d="M65.8,-7.4 A2.6,7.4 0 0 1 65.8,7.4" fill="none" stroke="#222" stroke-width="0.9"/><circle cx="54.5" cy="-9" r="0.45" fill="#333"/><circle cx="54.5" cy="-5" r="0.45" fill="#333"/><circle cx="54.5" cy="-1" r="0.45" fill="#333"/><circle cx="54.5" cy="3" r="0.45" fill="#333"/><circle cx="54.5" cy="7" r="0.45" fill="#333"/><circle cx="57.5" cy="-9" r="0.45" fill="#333"/><circle cx="57.5" cy="-5" r="0.45" fill="#333"/><circle cx="57.5" cy="-1" r="0.45" fill="#333"/><circle cx="57.5" cy="3" r="0.45" fill="#333"/><circle cx="57.5" cy="7" r="0.45" fill="#333"/><circle cx="60.5" cy="-9" r="0.45" fill="#333"/><circle cx="60.5" cy="-5" r="0.45" fill="#333"/><circle cx="60.5" cy="-1" r="0.45" fill="#333"/><circle cx="60.5" cy="3" r="0.45" fill="#333"/><circle cx="60.5" cy="7" r="0.45" fill="#333"/><circle cx="63.5" cy="-9" r="0.45" fill="#333"/><circle cx="63.5" cy="-5" r="0.45" fill="#333"/><circle cx="63.5" cy="-1" r="0.45" fill="#333"/><circle cx="63.5" cy="3" r="0.45" fill="#333"/><circle cx="63.5" cy="7" r="0.45" fill="#333"/><rect x="70" y="-4.2" width="54" height="8.4" fill="#fff"/><path d="M70,-4.4 H124 M70,4.4 H124" stroke="#222" stroke-width="1"/><path d="M123,-5.5 C124,-9 128,-12.8 136,-13.4 H148 V13.4 H136 C128,12.8 124,9 123,5.5 Z" fill="#f2f2f2" stroke="#222" stroke-width="1"/><path d="M128,-10.5 A3,10.5 0 0 0 128,10.5" fill="none" stroke="#222" stroke-width="1.3"/><path d="M130,-11.8 A3,11.8 0 0 0 130,11.8" fill="none" stroke="#222" stroke-width="0.7"/><path d="M134,-13 A3,13 0 0 0 134,13" fill="none" stroke="#222" stroke-width="1.3"/><path d="M136,-13.2 A3,13.2 0 0 0 136,13.2" fill="none" stroke="#222" stroke-width="0.7"/><path d="M140,-13.4 A3,13.4 0 0 0 140,13.4" fill="none" stroke="#222" stroke-width="1.3"/><path d="M142,-13.4 A3,13.4 0 0 0 142,13.4" fill="none" stroke="#222" stroke-width="0.7"/><path d="M145.5,-13.4 A3,13.4 0 0 0 145.5,13.4" fill="none" stroke="#222" stroke-width="1.0"/><circle cx="131" cy="-10" r="0.5" fill="#333"/><circle cx="131" cy="-6" r="0.5" fill="#333"/><circle cx="131" cy="-2" r="0.5" fill="#333"/><circle cx="131" cy="2" r="0.5" fill="#333"/><circle cx="131" cy="6" r="0.5" fill="#333"/><circle cx="131" cy="10" r="0.5" fill="#333"/><circle cx="137" cy="-10" r="0.5" fill="#333"/><circle cx="137" cy="-6" r="0.5" fill="#333"/><circle cx="137" cy="-2" r="0.5" fill="#333"/><circle cx="137" cy="2" r="0.5" fill="#333"/><circle cx="137" cy="6" r="0.5" fill="#333"/><circle cx="137" cy="10" r="0.5" fill="#333"/><circle cx="143" cy="-10" r="0.5" fill="#333"/><circle cx="143" cy="-6" r="0.5" fill="#333"/><circle cx="143" cy="-2" r="0.5" fill="#333"/><circle cx="143" cy="2" r="0.5" fill="#333"/><circle cx="143" cy="6" r="0.5" fill="#333"/><circle cx="143" cy="10" r="0.5" fill="#333"/><ellipse cx="124.5" cy="0" rx="2.6" ry="7" fill="#fff" stroke="#111" stroke-width="1.2"/><ellipse cx="124" cy="0" rx="1.6" ry="4.8" fill="#fff" stroke="#444" stroke-width="0.7"/><path d="M147,-13.2 H160 C164,-12 167,-8 167.5,-4 V4 C167,8 164,12 160,13.2 H147 Z" fill="#fff" stroke="#222" stroke-width="1"/><path d="M164,-4 H168.5 M164,4 H168.5" stroke="#222" stroke-width="0.8"/><path d="M168,-3.8 H185.5 A2.2,3.8 0 0 1 185.5,3.8 H168 Z" fill="#fff" stroke="#222" stroke-width="0.9"/><rect x="170" y="-3.8" width="17" height="7.6" fill="#777"/><line x1="170.5" y1="-3.6" x2="171.5" y2="3.6" stroke="#ddd" stroke-width="0.5"/><line x1="172.0" y1="-3.6" x2="173.0" y2="3.6" stroke="#ddd" stroke-width="0.5"/><line x1="173.5" y1="-3.6" x2="174.5" y2="3.6" stroke="#ddd" stroke-width="0.5"/><line x1="175.0" y1="-3.6" x2="176.0" y2="3.6" stroke="#ddd" stroke-width="0.5"/><line x1="176.5" y1="-3.6" x2="177.5" y2="3.6" stroke="#ddd" stroke-width="0.5"/><line x1="178.0" y1="-3.6" x2="179.0" y2="3.6" stroke="#ddd" stroke-width="0.5"/><line x1="179.5" y1="-3.6" x2="180.5" y2="3.6" stroke="#ddd" stroke-width="0.5"/><line x1="181.0" y1="-3.6" x2="182.0" y2="3.6" stroke="#ddd" stroke-width="0.5"/><line x1="182.5" y1="-3.6" x2="183.5" y2="3.6" stroke="#ddd" stroke-width="0.5"/><line x1="184.0" y1="-3.6" x2="185.0" y2="3.6" stroke="#ddd" stroke-width="0.5"/><line x1="185.5" y1="-3.6" x2="186.5" y2="3.6" stroke="#ddd" stroke-width="0.5"/><rect x="181" y="-3.8" width="6" height="7.6" fill="#333"/></g>
<ellipse cx="649.8" cy="555.3" rx="6.2" ry="7.6" transform="rotate(22 649.8 555.3)" fill="#fff" stroke="#222" stroke-width="1.2"/>
<ellipse cx="650.6" cy="555.4" rx="4.2" ry="5.7" transform="rotate(22 650.6 555.4)" fill="#eee" stroke="#111" stroke-width="1.1"/>
<path d="M647.5,551.5 L652.5,550.8 L654.5,554 L652.8,559.5 L648,560 L646.5,556 Z" fill="none" stroke="#222" stroke-width="0.9"/>
<path d="M651,556 L653.5,554.5 L652.5,558.5 Z M648,553 L650,552.2 L648.6,555 Z" fill="#fff"/>
<path d="M645,556 C644.5,559 645.5,561.5 648,562.5" fill="none" stroke="#777" stroke-width="0.7"/>
<line x1="650.6" y1="528.5" x2="650.6" y2="548" stroke="#444" stroke-width="1"/>
<text x="625.2" y="524.8" font-size="14" text-anchor="start" font-weight="normal" fill="#333" >1325AA</text>
<line x1="564.8" y1="479.3" x2="564.8" y2="500.3" stroke="#444" stroke-width="1"/>
<text x="545.7" y="475.6" font-size="14" text-anchor="start" font-weight="normal" fill="#333" >49500L</text>
<path d="M482.6,456.4 A4.3,4.8 0 1 1 479.6,452.3" fill="none" stroke="#222" stroke-width="1.3"/>
<line x1="479.6" y1="438.5" x2="479.6" y2="452.5" stroke="#444" stroke-width="1"/>
<text x="461.5" y="433.8" font-size="13.2" text-anchor="start" font-weight="normal" fill="#333" >43481</text>
<path d="M319,356.7 L389.5,396 L379,409.5 L311.5,371 Z" fill="#fff"/>
<path d="M319,356.7 L389.5,396 M311.5,371 L379,409.5" stroke="#222" stroke-width="1"/>
<path d="M293.5,356.8 L295.5,351 L298,348.9 L302.5,346.6 L306.2,347.4 L311.5,348.9 L316,348.5 L320.5,351.1 L321.6,353.8 L319,356.7 C314,359 311,365 310.8,370.3 L306.2,373.2 L302.5,378.5 L297.2,377 L295.4,373.2 L296.5,366.5 L294.2,360.5 Z" fill="#fff" stroke="#222" stroke-width="0.9" stroke-linejoin="round"/>
<path d="M319,356.7 C314,359 311,365 311.5,371" fill="none" stroke="#222" stroke-width="1"/>
<path d="M298,352 C300,358 300,366 301,372 M304,352 C303,356 303,360 304.5,363" fill="none" stroke="#555" stroke-width="0.6"/>
<path d="M296.5,348 L290.5,345.5 C287.5,346 287,351 289,354 L295,356.5" fill="#fff" stroke="#222" stroke-width="0.9"/>
<path d="M291.5,345.8 C289.5,347 289.5,352 291,354.8" fill="none" stroke="#444" stroke-width="0.7"/>
<path d="M396.2,395.8 L406.8,390.5 L419,387 L440,381.8 L455.1,381.4 L462,377.2 L468.6,374 L474.2,374.6 C478,377.5 481,381 482.6,386 C484.3,391.5 484.2,396 483.2,399.4 L458.6,427 C460,436 456,447 446,455 C442,458 438,459 435,459 L427,420 L411,400 Z" fill="#fff" stroke="#222" stroke-width="0.9" stroke-linejoin="round"/>
<path d="M455.6,381.6 L421.4,403.3 M440,388.8 L419,402.8 M466.4,408.4 L483.2,396.5 M468.6,374 C465,376.5 461,378.8 456.5,381.3" fill="none" stroke="#444" stroke-width="0.7"/>
<path d="M404,391.8 C414,389.5 428,385.5 440,383.4 M436,383 L446,381.5" fill="none" stroke="#666" stroke-width="0.6"/>
<path d="M381.4,403.6 L388,399.6 L400.6,394.4 L411,399.5 L422.5,404.5 L426.9,408.9 L431,420 L436.3,437 L436.6,450 L435.8,458.2 L432.4,461.6 L422.2,468.4 L416.6,469.6 L407,463.5 L397.5,458.2 L392,450.5 L388.5,442.5 L379.5,431.2 L378.8,419 L378.8,408.9 Z" fill="#fff" stroke="#222" stroke-width="1" stroke-linejoin="round"/>
<path d="M383.1,408.4 L398,400.1 L417.2,410.6 L429.6,433 L429.6,458.2 L416.6,467.2 L397.5,456 L389,443 L383.1,431 Z" fill="none" stroke="#444" stroke-width="0.75" stroke-linejoin="round"/>
<path d="M385,405.6 L399,398.5 M401,402 L417,408.8 M432,434 L432,457 M400,458 L416,469 M382,414 L382,430" fill="none" stroke="#555" stroke-width="0.6"/>
<circle cx="383.1" cy="408.4" r="2.6" fill="#fff" stroke="#111" stroke-width="1.3"/>
<circle cx="383.40000000000003" cy="408.59999999999997" r="1.1" fill="none" stroke="#777" stroke-width="0.5"/>
<circle cx="398" cy="400.1" r="2.6" fill="#fff" stroke="#111" stroke-width="1.3"/>
<circle cx="398.3" cy="400.3" r="1.1" fill="none" stroke="#777" stroke-width="0.5"/>
<circle cx="417.2" cy="410.6" r="2.6" fill="#fff" stroke="#111" stroke-width="1.3"/>
<circle cx="417.5" cy="410.8" r="1.1" fill="none" stroke="#777" stroke-width="0.5"/>
<circle cx="429.6" cy="433" r="2.6" fill="#fff" stroke="#111" stroke-width="1.3"/>
<circle cx="429.90000000000003" cy="433.2" r="1.1" fill="none" stroke="#777" stroke-width="0.5"/>
<circle cx="429.6" cy="458.2" r="2.6" fill="#fff" stroke="#111" stroke-width="1.3"/>
<circle cx="429.90000000000003" cy="458.4" r="1.1" fill="none" stroke="#777" stroke-width="0.5"/>
<circle cx="416.6" cy="467.2" r="2.6" fill="#fff" stroke="#111" stroke-width="1.3"/>
<circle cx="416.90000000000003" cy="467.4" r="1.1" fill="none" stroke="#777" stroke-width="0.5"/>
<circle cx="397.5" cy="456" r="2.6" fill="#fff" stroke="#111" stroke-width="1.3"/>
<circle cx="397.8" cy="456.2" r="1.1" fill="none" stroke="#777" stroke-width="0.5"/>
<path d="M389.5,409.8 C387,418 386.5,430 388,437.5 C389.5,443 391.5,448 394,451 M394,407.5 C392.5,412 392,416 392.5,419.5 C392,428 393,438 396.2,445 M399.2,406 C397.5,412 396.5,417 397,422.5 C397,430 398,440 400,446.5 M403,407 C401,411 400.5,414 400.5,417" fill="none" stroke="#333" stroke-width="0.8"/>
<path d="M407,418.5 C404.5,418.5 403.5,421 404,423 C404.5,424.5 406,424.5 407,423.5 M406.5,429.5 C404,429.5 403,432 403.6,434 C404.2,435.5 405.6,435.5 406.6,434.5 M408,448.5 C405.5,448.5 404.5,451 405,453 C405.6,454.5 407,454.5 408,453.5" fill="none" stroke="#333" stroke-width="0.8"/>
<path d="M397.8,424.8 L409.8,424 L409.8,434.5 L400,436 M416.5,417.2 L410.5,432.2 M420.2,430 L418,439 M409.8,435.2 L409.8,445 M419,440.5 L423,440.5 M413.5,446.5 C416,448 419,451 422.5,451 L426.3,449.5 M413.5,452.5 L413.5,460 M421,452.5 L421.8,460 M406,413 C410,412 413,410 415,408" fill="none" stroke="#333" stroke-width="0.8"/>
<circle cx="414" cy="447.5" r="1.6" fill="#333"/>
<path d="M414.2,403 L427,417.2 M416,402 L428.5,416" fill="none" stroke="#444" stroke-width="0.7"/>
<ellipse cx="446.6" cy="437.8" rx="9.4" ry="14.8" transform="rotate(22 446.6 437.8)" fill="#fff" stroke="#222" stroke-width="0.9"/>
<path d="M450,422.5 C455,420 459,423 459.5,429 M459,430 C459,440 454,449 446,455" fill="none" stroke="#444" stroke-width="0.8"/>
<path d="M390.5,396.6 C385,394 380,398 379,405 C378.5,408 379,410 380,411" fill="none" stroke="#333" stroke-width="0.9"/>
<path d="M569.9,357.6 H483.6 L476.5,369" fill="none" stroke="#555" stroke-width="1"/>
<path d="M474.4,373.6 L475.6,363.2 L479.8,365.8 Z" fill="#000"/>
<text x="490" y="353.2" font-size="13.8" text-anchor="start" font-weight="bold" fill="#333" letter-spacing="-0.15">REF.50-510</text>
</svg></body></html>
